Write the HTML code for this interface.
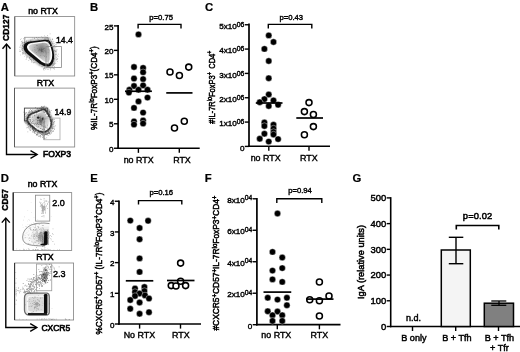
<!DOCTYPE html>
<html><head><meta charset="utf-8"><title>Figure</title>
<style>
html,body{margin:0;padding:0;background:#fff;}
body{width:520px;height:352px;overflow:hidden;font-family:"Liberation Sans",sans-serif;}
svg{display:block;filter:blur(0.35px);font-family:"Liberation Sans",sans-serif;}
svg text{fill:#000;stroke:#000;stroke-width:0.4px;}
</style></head><body>
<svg width="520" height="352" viewBox="0 0 520 352">
<defs><filter id="b1" x="-20%" y="-20%" width="140%" height="140%"><feGaussianBlur stdDeviation="0.45"/></filter>
<filter id="b2" x="-30%" y="-30%" width="160%" height="160%"><feGaussianBlur stdDeviation="1.1"/></filter>
<radialGradient id="gA1" gradientUnits="userSpaceOnUse" cx="41.5" cy="49" r="11"><stop offset="0" stop-color="#747474"/><stop offset="0.5" stop-color="#a8a8a8"/><stop offset="1" stop-color="#cfcfcf"/></radialGradient>
<radialGradient id="gA2" gradientUnits="userSpaceOnUse" cx="40.5" cy="119" r="10"><stop offset="0" stop-color="#8a8a8a"/><stop offset="0.5" stop-color="#c2c2c2"/><stop offset="1" stop-color="#e2e2e2"/></radialGradient>
</defs>
<rect width="520" height="352" fill="#fff"/>
<text x="0.8" y="10.7" font-size="11.3" text-anchor="start" font-weight="bold" style="stroke-width:0.2px">A</text>
<text x="90" y="10.7" font-size="11.3" text-anchor="start" font-weight="bold" style="stroke-width:0.2px">B</text>
<text x="205" y="10.7" font-size="11.3" text-anchor="start" font-weight="bold" style="stroke-width:0.2px">C</text>
<text x="0.8" y="182.1" font-size="11.3" text-anchor="start" font-weight="bold" style="stroke-width:0.2px">D</text>
<text x="90.3" y="182.1" font-size="11.3" text-anchor="start" font-weight="bold" style="stroke-width:0.2px">E</text>
<text x="204.8" y="182.1" font-size="11.3" text-anchor="start" font-weight="bold" style="stroke-width:0.2px">F</text>
<text x="352.6" y="182.1" font-size="11.3" text-anchor="start" font-weight="bold" style="stroke-width:0.2px">G</text>
<rect x="14.75" y="16.6" width="59.95" height="59.40" fill="#fff" stroke="#808080" stroke-width="0.8"/>
<path d="M14.75 16.6 V76" fill="none" stroke="#555" stroke-width="0.9"/>
<text x="43" y="13.5" font-size="8.8" text-anchor="middle" font-weight="normal" style="stroke-width:0.5px">no RTX</text>
<rect x="24.75" y="37.25" width="23.35" height="9.75" fill="none" stroke="#888" stroke-width="0.7" opacity="1"/>
<g filter="url(#b2)"><path d="M23.6 46.5 Q24.5 42 30 41.4 L45.3 39.7 Q49.5 39.5 51 43 Q54.8 52 54 58.5 Q52.8 66.4 47.8 66.4 Q43.5 66.5 39.5 63.8 L28 54.5 Q23.2 50.5 23.6 46.5 Z" fill="none" stroke="#000" stroke-width="3" opacity="0.35"/></g>
<g filter="url(#b1)">
<path d="M23.6 46.5 Q24.5 42 30 41.4 L45.3 39.7 Q49.5 39.5 51 43 Q54.8 52 54 58.5 Q52.8 66.4 47.8 66.4 Q43.5 66.5 39.5 63.8 L28 54.5 Q23.2 50.5 23.6 46.5 Z" fill="#0a0a0a"/>
<path d="M27 46 Q28 43.5 31 43 L45 41.2 Q48 41.2 49.5 44 Q53 52 52 58 Q51 63.3 48 63.8 Q45 64 42 62 L30 52 Q26.5 49 27 46 Z" fill="#fbfbfb"/>
<path d="M29 46.5 Q29.6 44.6 32 44.3 L44.5 42.8 Q47 42.8 48.2 45 Q51.2 52 50.3 57.5 Q49.5 61.8 47.5 62 Q45.3 62 43 60.5 L31.2 51 Q28.6 48.7 29 46.5 Z" fill="url(#gA1)"/>
</g>
<path d="M44.0 68.3h0.6v0.6h-0.6zM19.5 49.6h0.6v0.6h-0.6zM52.5 42.8h0.6v0.6h-0.6zM38.3 39.7h0.6v0.6h-0.6zM54.3 49.9h0.6v0.6h-0.6zM43.7 69.8h0.6v0.6h-0.6zM48.6 39.9h0.6v0.6h-0.6zM53.4 61.0h0.6v0.6h-0.6zM53.5 46.6h0.6v0.6h-0.6zM21.0 42.7h0.6v0.6h-0.6zM49.8 66.7h0.6v0.6h-0.6zM55.0 51.0h0.6v0.6h-0.6zM56.0 59.2h0.6v0.6h-0.6zM55.5 63.3h0.6v0.6h-0.6zM52.5 42.7h0.6v0.6h-0.6zM26.0 41.3h0.6v0.6h-0.6zM48.0 69.0h0.6v0.6h-0.6zM30.7 59.3h0.6v0.6h-0.6zM24.6 37.4h0.6v0.6h-0.6zM26.0 58.8h0.6v0.6h-0.6zM22.4 42.4h0.6v0.6h-0.6zM29.7 57.6h0.6v0.6h-0.6zM56.0 46.1h0.6v0.6h-0.6zM45.6 38.7h0.6v0.6h-0.6zM31.6 62.1h0.6v0.6h-0.6zM45.6 68.6h0.6v0.6h-0.6zM28.0 41.0h0.6v0.6h-0.6zM24.8 54.5h0.6v0.6h-0.6zM47.3 41.4h0.6v0.6h-0.6zM48.3 40.5h0.6v0.6h-0.6zM26.0 40.6h0.6v0.6h-0.6zM21.9 50.5h0.6v0.6h-0.6zM44.3 67.9h0.6v0.6h-0.6zM46.1 37.9h0.6v0.6h-0.6zM52.1 39.4h0.6v0.6h-0.6zM42.5 37.6h0.6v0.6h-0.6zM50.5 65.2h0.6v0.6h-0.6zM44.7 38.2h0.6v0.6h-0.6zM29.7 59.2h0.6v0.6h-0.6zM53.3 58.7h0.6v0.6h-0.6zM54.9 54.2h0.6v0.6h-0.6zM22.2 45.9h0.6v0.6h-0.6zM39.2 40.3h0.6v0.6h-0.6zM48.9 41.6h0.6v0.6h-0.6zM23.2 53.6h0.6v0.6h-0.6zM56.6 49.8h0.6v0.6h-0.6zM50.7 44.7h0.6v0.6h-0.6zM22.4 41.7h0.6v0.6h-0.6zM53.4 65.4h0.6v0.6h-0.6zM53.0 68.3h0.6v0.6h-0.6zM47.6 64.5h0.6v0.6h-0.6zM21.1 41.0h0.6v0.6h-0.6zM43.7 39.6h0.6v0.6h-0.6zM55.8 51.1h0.6v0.6h-0.6zM54.0 66.1h0.6v0.6h-0.6zM29.9 55.2h0.6v0.6h-0.6zM55.3 42.4h0.6v0.6h-0.6zM26.4 56.0h0.6v0.6h-0.6zM24.1 56.2h0.6v0.6h-0.6zM47.0 35.3h0.6v0.6h-0.6zM37.3 38.2h0.6v0.6h-0.6zM55.8 54.1h0.6v0.6h-0.6zM54.1 59.4h0.6v0.6h-0.6zM25.3 52.8h0.6v0.6h-0.6zM43.1 65.1h0.6v0.6h-0.6zM24.4 48.8h0.6v0.6h-0.6zM19.2 51.0h0.6v0.6h-0.6zM50.4 39.4h0.6v0.6h-0.6zM49.0 37.6h0.6v0.6h-0.6zM44.5 67.3h0.6v0.6h-0.6zM44.5 38.6h0.6v0.6h-0.6zM21.2 41.5h0.6v0.6h-0.6zM32.1 37.7h0.6v0.6h-0.6zM22.4 53.1h0.6v0.6h-0.6zM26.5 57.6h0.6v0.6h-0.6zM53.3 65.3h0.6v0.6h-0.6zM30.4 59.4h0.6v0.6h-0.6zM37.6 39.2h0.6v0.6h-0.6zM53.7 63.8h0.6v0.6h-0.6zM54.3 64.0h0.6v0.6h-0.6zM58.3 53.8h0.6v0.6h-0.6zM53.5 41.0h0.6v0.6h-0.6zM28.5 60.1h0.6v0.6h-0.6zM49.4 67.0h0.6v0.6h-0.6zM22.0 48.0h0.6v0.6h-0.6zM21.7 48.8h0.6v0.6h-0.6zM57.0 55.5h0.6v0.6h-0.6zM25.1 43.4h0.6v0.6h-0.6zM30.2 56.5h0.6v0.6h-0.6zM44.0 65.5h0.6v0.6h-0.6zM53.9 68.1h0.6v0.6h-0.6zM31.4 60.3h0.6v0.6h-0.6zM44.7 40.2h0.6v0.6h-0.6zM30.0 39.7h0.6v0.6h-0.6zM24.7 48.6h0.6v0.6h-0.6zM23.1 44.2h0.6v0.6h-0.6zM49.6 42.8h0.6v0.6h-0.6zM54.4 63.3h0.6v0.6h-0.6zM49.8 33.6h0.6v0.6h-0.6zM21.8 44.6h0.6v0.6h-0.6zM54.6 50.6h0.6v0.6h-0.6zM31.2 61.0h0.6v0.6h-0.6zM23.0 51.7h0.6v0.6h-0.6zM54.8 50.4h0.6v0.6h-0.6zM33.6 58.7h0.6v0.6h-0.6zM22.1 45.1h0.6v0.6h-0.6zM45.5 36.7h0.6v0.6h-0.6zM22.1 50.0h0.6v0.6h-0.6zM56.4 56.9h0.6v0.6h-0.6zM27.2 44.0h0.6v0.6h-0.6zM26.3 51.2h0.6v0.6h-0.6zM55.8 46.6h0.6v0.6h-0.6zM27.3 55.9h0.6v0.6h-0.6zM22.6 45.4h0.6v0.6h-0.6zM22.0 46.7h0.6v0.6h-0.6zM33.9 38.3h0.6v0.6h-0.6zM32.9 59.1h0.6v0.6h-0.6zM52.8 63.3h0.6v0.6h-0.6zM22.0 45.6h0.6v0.6h-0.6zM52.4 39.3h0.6v0.6h-0.6zM20.4 39.3h0.6v0.6h-0.6zM55.7 43.8h0.6v0.6h-0.6zM31.7 39.4h0.6v0.6h-0.6zM22.4 40.7h0.6v0.6h-0.6zM26.7 45.6h0.6v0.6h-0.6zM20.0 51.1h0.6v0.6h-0.6zM29.5 57.9h0.6v0.6h-0.6zM52.5 43.4h0.6v0.6h-0.6zM44.2 66.5h0.6v0.6h-0.6zM22.8 42.1h0.6v0.6h-0.6zM46.7 37.1h0.6v0.6h-0.6zM47.4 38.6h0.6v0.6h-0.6zM38.6 37.3h0.6v0.6h-0.6zM19.7 51.2h0.6v0.6h-0.6zM27.0 50.4h0.6v0.6h-0.6zM24.5 46.0h0.6v0.6h-0.6zM20.0 54.7h0.6v0.6h-0.6zM55.7 44.6h0.6v0.6h-0.6zM54.4 68.9h0.6v0.6h-0.6zM24.0 51.7h0.6v0.6h-0.6zM23.3 52.8h0.6v0.6h-0.6zM23.1 38.7h0.6v0.6h-0.6zM48.3 40.3h0.6v0.6h-0.6zM52.0 63.6h0.6v0.6h-0.6zM44.8 38.4h0.6v0.6h-0.6zM56.6 58.7h0.6v0.6h-0.6zM30.6 39.9h0.6v0.6h-0.6zM25.1 45.9h0.6v0.6h-0.6zM47.5 41.1h0.6v0.6h-0.6zM55.7 50.2h0.6v0.6h-0.6zM20.9 38.4h0.6v0.6h-0.6zM22.3 48.7h0.6v0.6h-0.6zM37.7 61.4h0.6v0.6h-0.6zM56.0 59.6h0.6v0.6h-0.6zM48.5 41.1h0.6v0.6h-0.6zM54.5 61.9h0.6v0.6h-0.6zM41.9 66.4h0.6v0.6h-0.6zM20.8 47.5h0.6v0.6h-0.6zM43.1 68.3h0.6v0.6h-0.6zM54.8 47.2h0.6v0.6h-0.6zM50.0 69.6h0.6v0.6h-0.6zM21.9 42.7h0.6v0.6h-0.6zM22.4 53.9h0.6v0.6h-0.6zM29.0 56.9h0.6v0.6h-0.6zM23.3 46.0h0.6v0.6h-0.6zM30.0 41.3h0.6v0.6h-0.6zM25.7 59.0h0.6v0.6h-0.6zM19.5 47.5h0.6v0.6h-0.6zM22.5 52.3h0.6v0.6h-0.6zM23.5 47.5h0.6v0.6h-0.6zM31.7 43.5h0.6v0.6h-0.6zM44.3 35.6h0.6v0.6h-0.6zM29.4 58.3h0.6v0.6h-0.6zM49.9 37.7h0.6v0.6h-0.6zM50.6 65.0h0.6v0.6h-0.6zM34.7 62.2h0.6v0.6h-0.6zM22.6 48.6h0.6v0.6h-0.6zM21.4 48.8h0.6v0.6h-0.6zM48.4 66.3h0.6v0.6h-0.6zM56.5 49.5h0.6v0.6h-0.6zM57.1 59.2h0.6v0.6h-0.6zM43.1 69.1h0.6v0.6h-0.6zM51.8 67.6h0.6v0.6h-0.6zM38.8 64.9h0.6v0.6h-0.6zM51.8 63.8h0.6v0.6h-0.6zM54.5 44.9h0.6v0.6h-0.6zM54.5 44.9h0.6v0.6h-0.6zM27.4 53.5h0.6v0.6h-0.6zM25.0 41.8h0.6v0.6h-0.6zM51.5 41.2h0.6v0.6h-0.6zM19.7 46.6h0.6v0.6h-0.6zM50.3 67.7h0.6v0.6h-0.6zM49.2 65.4h0.6v0.6h-0.6zM28.9 57.3h0.6v0.6h-0.6zM43.3 68.3h0.6v0.6h-0.6zM27.5 43.0h0.6v0.6h-0.6zM36.4 37.1h0.6v0.6h-0.6zM52.2 65.1h0.6v0.6h-0.6zM26.7 57.1h0.6v0.6h-0.6zM49.4 67.1h0.6v0.6h-0.6zM39.2 64.5h0.6v0.6h-0.6zM47.2 69.2h0.6v0.6h-0.6zM57.5 58.3h0.6v0.6h-0.6zM52.2 66.6h0.6v0.6h-0.6zM51.5 60.2h0.6v0.6h-0.6zM56.1 51.0h0.6v0.6h-0.6zM24.7 42.0h0.6v0.6h-0.6zM22.3 53.2h0.6v0.6h-0.6zM34.0 62.2h0.6v0.6h-0.6zM23.4 38.0h0.6v0.6h-0.6zM49.5 41.8h0.6v0.6h-0.6zM44.0 66.6h0.6v0.6h-0.6zM33.5 61.9h0.6v0.6h-0.6zM21.9 43.3h0.6v0.6h-0.6zM33.0 59.9h0.6v0.6h-0.6zM23.9 42.1h0.6v0.6h-0.6zM30.1 59.3h0.6v0.6h-0.6zM56.8 49.5h0.6v0.6h-0.6zM40.8 39.8h0.6v0.6h-0.6zM54.4 58.3h0.6v0.6h-0.6zM53.7 45.9h0.6v0.6h-0.6zM49.5 49.7h0.6v0.6h-0.6zM22.0 48.7h0.6v0.6h-0.6zM24.7 53.3h0.6v0.6h-0.6zM56.0 52.7h0.6v0.6h-0.6zM57.4 58.6h0.6v0.6h-0.6zM53.3 56.7h0.6v0.6h-0.6zM26.2 52.2h0.6v0.6h-0.6zM20.2 44.8h0.6v0.6h-0.6zM52.8 42.9h0.6v0.6h-0.6zM55.4 51.5h0.6v0.6h-0.6zM22.2 42.2h0.6v0.6h-0.6zM57.8 56.3h0.6v0.6h-0.6zM31.0 59.6h0.6v0.6h-0.6zM20.3 50.7h0.6v0.6h-0.6zM33.0 62.5h0.6v0.6h-0.6zM57.2 61.0h0.6v0.6h-0.6zM51.7 67.8h0.6v0.6h-0.6zM45.4 68.8h0.6v0.6h-0.6zM23.4 44.7h0.6v0.6h-0.6zM34.4 37.8h0.6v0.6h-0.6zM47.9 38.8h0.6v0.6h-0.6zM41.5 66.0h0.6v0.6h-0.6zM22.2 52.0h0.6v0.6h-0.6zM54.1 43.0h0.6v0.6h-0.6zM54.2 45.5h0.6v0.6h-0.6zM25.8 55.2h0.6v0.6h-0.6zM41.4 35.9h0.6v0.6h-0.6zM52.0 38.6h0.6v0.6h-0.6zM56.0 53.9h0.6v0.6h-0.6zM31.8 61.0h0.6v0.6h-0.6zM47.1 35.2h0.6v0.6h-0.6zM25.2 38.6h0.6v0.6h-0.6zM49.2 65.8h0.6v0.6h-0.6zM52.9 64.1h0.6v0.6h-0.6zM32.9 62.7h0.6v0.6h-0.6zM24.0 46.8h0.6v0.6h-0.6zM25.0 51.7h0.6v0.6h-0.6zM51.1 41.6h0.6v0.6h-0.6zM50.2 68.5h0.6v0.6h-0.6z" fill="#000" opacity="0.4"/>
<path d="M34.4 49.6h0.6v0.6h-0.6zM42.5 50.9h0.6v0.6h-0.6zM40.9 49.0h0.6v0.6h-0.6zM46.3 51.9h0.6v0.6h-0.6zM32.5 49.8h0.6v0.6h-0.6zM46.4 56.2h0.6v0.6h-0.6zM45.9 43.9h0.6v0.6h-0.6zM41.1 49.8h0.6v0.6h-0.6zM42.9 55.2h0.6v0.6h-0.6zM41.6 49.8h0.6v0.6h-0.6zM44.7 47.8h0.6v0.6h-0.6zM47.6 46.9h0.6v0.6h-0.6zM45.4 51.9h0.6v0.6h-0.6zM44.5 55.5h0.6v0.6h-0.6zM42.1 49.2h0.6v0.6h-0.6zM46.4 56.8h0.6v0.6h-0.6zM38.1 50.0h0.6v0.6h-0.6zM40.9 51.6h0.6v0.6h-0.6zM40.4 50.0h0.6v0.6h-0.6zM41.5 51.1h0.6v0.6h-0.6zM44.5 55.7h0.6v0.6h-0.6zM43.2 48.3h0.6v0.6h-0.6zM41.3 50.5h0.6v0.6h-0.6zM38.7 49.6h0.6v0.6h-0.6zM36.9 45.3h0.6v0.6h-0.6zM33.9 47.4h0.6v0.6h-0.6zM39.5 49.2h0.6v0.6h-0.6zM42.5 49.9h0.6v0.6h-0.6zM36.4 45.1h0.6v0.6h-0.6zM40.5 55.3h0.6v0.6h-0.6zM45.0 49.8h0.6v0.6h-0.6zM41.2 47.9h0.6v0.6h-0.6zM37.7 51.2h0.6v0.6h-0.6zM47.8 52.1h0.6v0.6h-0.6zM41.1 49.9h0.6v0.6h-0.6zM47.8 49.3h0.6v0.6h-0.6zM39.2 48.9h0.6v0.6h-0.6zM44.6 50.0h0.6v0.6h-0.6zM44.8 50.8h0.6v0.6h-0.6zM36.1 52.2h0.6v0.6h-0.6zM39.0 49.8h0.6v0.6h-0.6zM41.2 51.5h0.6v0.6h-0.6zM40.8 49.7h0.6v0.6h-0.6zM41.0 50.0h0.6v0.6h-0.6zM42.7 51.3h0.6v0.6h-0.6zM38.7 48.7h0.6v0.6h-0.6zM39.4 49.0h0.6v0.6h-0.6zM34.6 51.0h0.6v0.6h-0.6zM43.2 52.5h0.6v0.6h-0.6zM41.8 51.1h0.6v0.6h-0.6zM46.2 53.6h0.6v0.6h-0.6zM42.5 42.7h0.6v0.6h-0.6zM40.9 50.0h0.6v0.6h-0.6zM40.6 49.4h0.6v0.6h-0.6zM37.2 48.4h0.6v0.6h-0.6zM35.8 51.9h0.6v0.6h-0.6zM41.3 49.9h0.6v0.6h-0.6zM44.0 47.9h0.6v0.6h-0.6zM45.6 51.3h0.6v0.6h-0.6zM41.1 51.0h0.6v0.6h-0.6zM41.1 50.0h0.6v0.6h-0.6zM40.3 49.8h0.6v0.6h-0.6zM42.9 49.3h0.6v0.6h-0.6zM39.1 48.4h0.6v0.6h-0.6zM35.5 49.8h0.6v0.6h-0.6zM44.1 56.1h0.6v0.6h-0.6zM40.8 50.4h0.6v0.6h-0.6zM42.1 49.1h0.6v0.6h-0.6zM41.0 49.9h0.6v0.6h-0.6zM41.3 49.6h0.6v0.6h-0.6z" fill="#000" opacity="0.3"/>
<path d="M48.1 41 V65" stroke="#999" stroke-width="0.7" opacity="0.8"/>
<rect x="46" y="46.6" width="15.50" height="20.90" fill="none" stroke="#888" stroke-width="0.8" opacity="1"/>
<text x="56" y="43" font-size="8.7" text-anchor="start" font-weight="normal" style="stroke-width:0.45px">14.4</text>
<rect x="14.5" y="88.1" width="60.20" height="58.90" fill="#fff" stroke="#808080" stroke-width="0.8"/>
<path d="M14.5 88.1 V147" fill="none" stroke="#555" stroke-width="0.9"/>
<text x="45.5" y="85.7" font-size="8.8" text-anchor="middle" font-weight="normal" style="stroke-width:0.5px">RTX</text>
<rect x="24.4" y="108.1" width="23.35" height="12.90" fill="none" stroke="#444" stroke-width="0.9" opacity="1"/>
<g filter="url(#b2)"><path d="M27.5 119 Q28 115.5 31 114 L42 109.8 Q45 109 46.5 111.5 Q51.5 119 51.3 124 Q50.5 130 44 132 Q40 132.5 36 129.5 L30 124.5 Q27 122 27.5 119 Z" fill="none" stroke="#000" stroke-width="4" opacity="0.42"/></g>
<g filter="url(#b1)">
<path d="M27.5 119 Q28 115.5 31 114 L42 109.8 Q45 109 46.5 111.5 Q51.5 119 51.3 124 Q50.5 130 44 132 Q40 132.5 36 129.5 L30 124.5 Q27 122 27.5 119 Z" fill="#f4f4f4" stroke="#444" stroke-width="1.5"/>
<path d="M30 119 Q30.5 116.6 33 115.6 L42 112 Q44 111.6 45 113.5 Q49 119.5 48.8 123.5 Q48 128.3 43.5 129.6 Q40.5 130 37.5 127.5 L32 123 Q29.7 121 30 119 Z" fill="url(#gA2)"/>
<ellipse cx="38.2" cy="117.6" rx="1.3" ry="1.2" fill="#222"/><ellipse cx="43" cy="118.8" rx="1.2" ry="1.3" fill="#333"/>
</g>
<path d="M31.9 127.3h0.7v0.7h-0.7zM32.1 111.1h0.7v0.7h-0.7zM50.5 130.7h0.7v0.7h-0.7zM40.0 128.0h0.7v0.7h-0.7zM52.1 127.5h0.7v0.7h-0.7zM29.8 116.0h0.7v0.7h-0.7zM52.2 119.8h0.7v0.7h-0.7zM39.3 135.9h0.7v0.7h-0.7zM29.7 124.2h0.7v0.7h-0.7zM27.2 114.1h0.7v0.7h-0.7zM48.7 130.6h0.7v0.7h-0.7zM44.6 109.1h0.7v0.7h-0.7zM45.0 110.0h0.7v0.7h-0.7zM26.5 117.8h0.7v0.7h-0.7zM41.5 110.7h0.7v0.7h-0.7zM50.5 130.9h0.7v0.7h-0.7zM41.4 106.2h0.7v0.7h-0.7zM41.3 133.9h0.7v0.7h-0.7zM31.4 111.7h0.7v0.7h-0.7zM39.5 108.2h0.7v0.7h-0.7zM31.5 109.9h0.7v0.7h-0.7zM51.4 125.0h0.7v0.7h-0.7zM53.1 131.3h0.7v0.7h-0.7zM42.2 131.7h0.7v0.7h-0.7zM52.8 127.9h0.7v0.7h-0.7zM39.0 132.3h0.7v0.7h-0.7zM28.6 119.3h0.7v0.7h-0.7zM36.6 112.3h0.7v0.7h-0.7zM49.3 114.3h0.7v0.7h-0.7zM42.9 132.4h0.7v0.7h-0.7zM44.1 109.4h0.7v0.7h-0.7zM52.8 130.0h0.7v0.7h-0.7zM52.2 118.6h0.7v0.7h-0.7zM38.2 110.7h0.7v0.7h-0.7zM36.7 111.6h0.7v0.7h-0.7zM33.9 127.6h0.7v0.7h-0.7zM26.8 118.6h0.7v0.7h-0.7zM45.9 109.0h0.7v0.7h-0.7zM29.9 126.2h0.7v0.7h-0.7zM26.9 117.8h0.7v0.7h-0.7zM28.6 121.3h0.7v0.7h-0.7zM28.5 123.4h0.7v0.7h-0.7zM47.3 131.3h0.7v0.7h-0.7zM49.3 111.3h0.7v0.7h-0.7zM49.5 110.6h0.7v0.7h-0.7zM48.2 132.4h0.7v0.7h-0.7zM30.7 111.3h0.7v0.7h-0.7zM48.7 109.1h0.7v0.7h-0.7zM42.6 134.8h0.7v0.7h-0.7zM51.6 124.2h0.7v0.7h-0.7zM33.1 130.2h0.7v0.7h-0.7zM52.9 128.1h0.7v0.7h-0.7zM42.1 137.0h0.7v0.7h-0.7zM33.1 127.4h0.7v0.7h-0.7zM49.8 117.3h0.7v0.7h-0.7zM46.8 128.0h0.7v0.7h-0.7zM50.9 117.4h0.7v0.7h-0.7zM50.0 129.7h0.7v0.7h-0.7zM35.4 128.1h0.7v0.7h-0.7zM42.2 134.3h0.7v0.7h-0.7zM28.5 112.5h0.7v0.7h-0.7zM52.2 118.6h0.7v0.7h-0.7zM48.7 119.0h0.7v0.7h-0.7zM42.1 134.6h0.7v0.7h-0.7zM53.3 123.9h0.7v0.7h-0.7zM37.3 108.0h0.7v0.7h-0.7zM51.6 124.6h0.7v0.7h-0.7zM31.9 127.4h0.7v0.7h-0.7zM51.6 124.7h0.7v0.7h-0.7zM54.4 121.5h0.7v0.7h-0.7zM44.2 105.7h0.7v0.7h-0.7zM48.9 116.2h0.7v0.7h-0.7zM42.6 107.2h0.7v0.7h-0.7zM37.2 133.6h0.7v0.7h-0.7zM43.8 111.8h0.7v0.7h-0.7zM48.2 115.6h0.7v0.7h-0.7zM32.7 130.8h0.7v0.7h-0.7zM50.7 123.9h0.7v0.7h-0.7zM28.5 122.7h0.7v0.7h-0.7zM48.2 133.1h0.7v0.7h-0.7zM43.2 107.5h0.7v0.7h-0.7zM44.3 112.3h0.7v0.7h-0.7zM28.4 118.4h0.7v0.7h-0.7zM37.8 109.5h0.7v0.7h-0.7zM33.0 128.7h0.7v0.7h-0.7zM44.2 106.1h0.7v0.7h-0.7zM40.9 108.0h0.7v0.7h-0.7zM51.2 121.7h0.7v0.7h-0.7zM29.3 122.9h0.7v0.7h-0.7zM41.2 134.1h0.7v0.7h-0.7zM30.0 114.5h0.7v0.7h-0.7zM46.8 116.1h0.7v0.7h-0.7zM25.7 120.5h0.7v0.7h-0.7zM29.6 120.9h0.7v0.7h-0.7zM32.5 128.0h0.7v0.7h-0.7zM47.3 133.0h0.7v0.7h-0.7zM45.3 134.2h0.7v0.7h-0.7zM42.7 106.1h0.7v0.7h-0.7zM48.4 129.9h0.7v0.7h-0.7zM48.5 116.0h0.7v0.7h-0.7zM27.7 117.3h0.7v0.7h-0.7zM42.6 131.6h0.7v0.7h-0.7zM40.4 130.8h0.7v0.7h-0.7zM48.2 130.6h0.7v0.7h-0.7zM42.8 110.2h0.7v0.7h-0.7zM38.5 131.5h0.7v0.7h-0.7zM27.5 116.9h0.7v0.7h-0.7zM30.6 112.9h0.7v0.7h-0.7zM45.3 108.4h0.7v0.7h-0.7zM31.0 110.3h0.7v0.7h-0.7zM43.7 109.3h0.7v0.7h-0.7zM40.8 107.5h0.7v0.7h-0.7zM45.6 110.7h0.7v0.7h-0.7zM52.4 123.7h0.7v0.7h-0.7zM24.4 115.5h0.7v0.7h-0.7zM38.5 130.0h0.7v0.7h-0.7zM23.5 111.8h0.7v0.7h-0.7zM44.7 110.6h0.7v0.7h-0.7zM31.8 127.1h0.7v0.7h-0.7zM24.0 114.3h0.7v0.7h-0.7zM33.5 113.4h0.7v0.7h-0.7zM50.8 131.4h0.7v0.7h-0.7zM45.6 114.0h0.7v0.7h-0.7zM48.8 112.3h0.7v0.7h-0.7zM31.3 123.8h0.7v0.7h-0.7zM28.6 114.7h0.7v0.7h-0.7zM33.5 113.5h0.7v0.7h-0.7zM27.3 126.9h0.7v0.7h-0.7zM32.3 128.4h0.7v0.7h-0.7zM32.5 109.4h0.7v0.7h-0.7zM38.1 129.4h0.7v0.7h-0.7zM49.2 128.5h0.7v0.7h-0.7zM26.2 112.6h0.7v0.7h-0.7zM43.0 132.9h0.7v0.7h-0.7zM45.3 112.4h0.7v0.7h-0.7zM48.7 113.5h0.7v0.7h-0.7zM51.6 120.2h0.7v0.7h-0.7zM54.1 127.8h0.7v0.7h-0.7zM29.6 120.2h0.7v0.7h-0.7zM46.3 106.8h0.7v0.7h-0.7zM32.7 126.7h0.7v0.7h-0.7zM40.2 128.4h0.7v0.7h-0.7zM51.1 115.7h0.7v0.7h-0.7zM52.0 121.1h0.7v0.7h-0.7zM40.6 133.1h0.7v0.7h-0.7zM28.9 110.1h0.7v0.7h-0.7zM45.2 131.6h0.7v0.7h-0.7zM48.9 111.5h0.7v0.7h-0.7zM45.8 131.9h0.7v0.7h-0.7zM25.2 113.6h0.7v0.7h-0.7zM45.2 131.6h0.7v0.7h-0.7zM27.0 116.9h0.7v0.7h-0.7zM28.6 116.1h0.7v0.7h-0.7zM49.5 112.8h0.7v0.7h-0.7zM30.0 117.1h0.7v0.7h-0.7zM47.3 134.5h0.7v0.7h-0.7zM43.4 133.8h0.7v0.7h-0.7zM32.0 121.0h0.7v0.7h-0.7zM33.5 128.6h0.7v0.7h-0.7zM42.6 128.9h0.7v0.7h-0.7zM41.4 131.3h0.7v0.7h-0.7zM52.6 122.4h0.7v0.7h-0.7zM52.3 131.3h0.7v0.7h-0.7zM31.6 114.9h0.7v0.7h-0.7zM34.5 130.8h0.7v0.7h-0.7zM50.3 121.1h0.7v0.7h-0.7zM34.4 112.2h0.7v0.7h-0.7zM46.8 133.4h0.7v0.7h-0.7zM49.1 110.4h0.7v0.7h-0.7zM53.5 122.8h0.7v0.7h-0.7zM44.6 106.0h0.7v0.7h-0.7zM50.9 110.2h0.7v0.7h-0.7zM33.1 128.3h0.7v0.7h-0.7zM47.5 132.7h0.7v0.7h-0.7zM49.0 132.0h0.7v0.7h-0.7zM31.6 126.3h0.7v0.7h-0.7zM51.5 126.2h0.7v0.7h-0.7zM52.7 126.8h0.7v0.7h-0.7zM45.3 132.3h0.7v0.7h-0.7zM29.0 111.2h0.7v0.7h-0.7zM29.8 122.7h0.7v0.7h-0.7zM46.4 133.4h0.7v0.7h-0.7zM47.5 116.7h0.7v0.7h-0.7zM29.6 113.9h0.7v0.7h-0.7zM25.5 116.2h0.7v0.7h-0.7zM34.1 127.1h0.7v0.7h-0.7zM46.6 110.2h0.7v0.7h-0.7zM51.8 128.0h0.7v0.7h-0.7zM51.4 119.8h0.7v0.7h-0.7zM41.1 106.0h0.7v0.7h-0.7zM41.9 107.4h0.7v0.7h-0.7zM50.8 118.5h0.7v0.7h-0.7zM36.3 128.6h0.7v0.7h-0.7zM49.3 128.8h0.7v0.7h-0.7zM29.8 129.7h0.7v0.7h-0.7zM47.2 112.7h0.7v0.7h-0.7zM49.0 128.8h0.7v0.7h-0.7zM31.7 114.9h0.7v0.7h-0.7zM30.0 109.2h0.7v0.7h-0.7zM45.4 131.2h0.7v0.7h-0.7zM29.5 119.1h0.7v0.7h-0.7zM27.5 123.4h0.7v0.7h-0.7zM29.2 118.9h0.7v0.7h-0.7zM43.5 112.2h0.7v0.7h-0.7zM29.2 117.6h0.7v0.7h-0.7zM50.5 120.8h0.7v0.7h-0.7zM54.1 121.2h0.7v0.7h-0.7zM44.7 110.1h0.7v0.7h-0.7zM54.9 125.6h0.7v0.7h-0.7zM53.3 122.5h0.7v0.7h-0.7zM42.5 129.0h0.7v0.7h-0.7zM33.7 129.0h0.7v0.7h-0.7zM30.4 115.5h0.7v0.7h-0.7zM48.3 129.6h0.7v0.7h-0.7zM43.8 132.5h0.7v0.7h-0.7zM49.0 111.3h0.7v0.7h-0.7zM36.9 130.6h0.7v0.7h-0.7zM41.4 109.6h0.7v0.7h-0.7zM25.5 118.5h0.7v0.7h-0.7zM30.2 119.2h0.7v0.7h-0.7zM25.7 117.7h0.7v0.7h-0.7zM51.1 127.2h0.7v0.7h-0.7zM30.6 111.6h0.7v0.7h-0.7zM26.3 119.7h0.7v0.7h-0.7zM33.8 111.7h0.7v0.7h-0.7zM48.8 120.5h0.7v0.7h-0.7zM33.2 128.9h0.7v0.7h-0.7zM36.4 133.8h0.7v0.7h-0.7zM48.6 128.1h0.7v0.7h-0.7zM39.7 130.7h0.7v0.7h-0.7zM49.4 127.8h0.7v0.7h-0.7zM50.3 117.4h0.7v0.7h-0.7zM39.7 136.3h0.7v0.7h-0.7zM48.8 116.5h0.7v0.7h-0.7zM49.5 113.9h0.7v0.7h-0.7zM36.0 112.4h0.7v0.7h-0.7zM32.6 132.2h0.7v0.7h-0.7zM50.6 118.1h0.7v0.7h-0.7zM37.3 134.1h0.7v0.7h-0.7zM47.5 129.1h0.7v0.7h-0.7zM29.5 124.5h0.7v0.7h-0.7zM46.5 111.1h0.7v0.7h-0.7zM38.3 110.2h0.7v0.7h-0.7zM33.9 132.1h0.7v0.7h-0.7zM32.4 111.9h0.7v0.7h-0.7zM45.9 133.2h0.7v0.7h-0.7zM39.1 130.7h0.7v0.7h-0.7zM29.8 127.3h0.7v0.7h-0.7zM44.2 110.9h0.7v0.7h-0.7zM49.3 128.9h0.7v0.7h-0.7zM44.8 133.3h0.7v0.7h-0.7zM26.4 122.7h0.7v0.7h-0.7zM50.5 128.1h0.7v0.7h-0.7zM34.6 130.9h0.7v0.7h-0.7zM40.4 132.1h0.7v0.7h-0.7zM25.9 117.6h0.7v0.7h-0.7zM32.1 111.1h0.7v0.7h-0.7zM49.4 111.1h0.7v0.7h-0.7zM29.9 119.9h0.7v0.7h-0.7zM29.3 116.8h0.7v0.7h-0.7zM54.2 129.1h0.7v0.7h-0.7zM47.2 132.8h0.7v0.7h-0.7zM33.0 130.2h0.7v0.7h-0.7zM50.7 118.1h0.7v0.7h-0.7zM36.5 111.3h0.7v0.7h-0.7zM28.4 114.9h0.7v0.7h-0.7zM28.1 114.0h0.7v0.7h-0.7zM28.9 117.0h0.7v0.7h-0.7zM52.0 128.5h0.7v0.7h-0.7zM45.1 111.0h0.7v0.7h-0.7zM45.2 110.3h0.7v0.7h-0.7zM28.1 111.8h0.7v0.7h-0.7zM35.0 130.0h0.7v0.7h-0.7zM49.0 132.8h0.7v0.7h-0.7zM30.3 119.7h0.7v0.7h-0.7zM32.2 112.0h0.7v0.7h-0.7zM24.6 119.5h0.7v0.7h-0.7zM26.6 115.4h0.7v0.7h-0.7zM25.9 117.5h0.7v0.7h-0.7zM29.4 112.2h0.7v0.7h-0.7zM45.7 130.8h0.7v0.7h-0.7zM50.0 116.6h0.7v0.7h-0.7zM40.7 130.6h0.7v0.7h-0.7zM49.2 114.4h0.7v0.7h-0.7zM28.3 115.4h0.7v0.7h-0.7zM34.8 110.3h0.7v0.7h-0.7zM38.9 110.5h0.7v0.7h-0.7zM48.1 116.2h0.7v0.7h-0.7zM40.8 131.9h0.7v0.7h-0.7zM45.0 110.2h0.7v0.7h-0.7zM42.6 111.1h0.7v0.7h-0.7zM47.0 115.9h0.7v0.7h-0.7zM35.0 129.9h0.7v0.7h-0.7zM30.0 125.9h0.7v0.7h-0.7zM50.1 111.8h0.7v0.7h-0.7zM28.3 124.1h0.7v0.7h-0.7zM48.6 110.5h0.7v0.7h-0.7zM36.2 113.6h0.7v0.7h-0.7zM41.5 132.4h0.7v0.7h-0.7zM28.4 117.2h0.7v0.7h-0.7zM49.0 114.5h0.7v0.7h-0.7zM43.6 131.8h0.7v0.7h-0.7zM51.5 126.0h0.7v0.7h-0.7zM36.2 134.5h0.7v0.7h-0.7zM48.5 113.3h0.7v0.7h-0.7zM45.6 133.7h0.7v0.7h-0.7zM32.3 125.1h0.7v0.7h-0.7zM34.5 114.8h0.7v0.7h-0.7zM51.7 119.3h0.7v0.7h-0.7zM45.2 109.0h0.7v0.7h-0.7zM24.9 112.6h0.7v0.7h-0.7zM50.3 116.4h0.7v0.7h-0.7zM32.2 128.6h0.7v0.7h-0.7zM40.9 107.8h0.7v0.7h-0.7zM26.3 112.3h0.7v0.7h-0.7zM52.6 119.2h0.7v0.7h-0.7zM46.4 134.3h0.7v0.7h-0.7zM32.1 128.2h0.7v0.7h-0.7zM35.7 110.8h0.7v0.7h-0.7zM44.2 129.3h0.7v0.7h-0.7zM29.1 122.8h0.7v0.7h-0.7zM47.1 114.3h0.7v0.7h-0.7zM53.7 126.3h0.7v0.7h-0.7zM50.4 118.1h0.7v0.7h-0.7zM49.4 133.3h0.7v0.7h-0.7zM43.0 106.4h0.7v0.7h-0.7zM53.9 119.2h0.7v0.7h-0.7zM46.8 113.0h0.7v0.7h-0.7zM46.1 113.1h0.7v0.7h-0.7zM36.7 109.4h0.7v0.7h-0.7zM43.0 111.3h0.7v0.7h-0.7zM48.1 114.8h0.7v0.7h-0.7zM49.4 111.5h0.7v0.7h-0.7zM38.0 110.1h0.7v0.7h-0.7zM45.1 131.5h0.7v0.7h-0.7zM24.7 113.8h0.7v0.7h-0.7zM31.4 123.2h0.7v0.7h-0.7zM50.3 123.1h0.7v0.7h-0.7zM50.8 121.4h0.7v0.7h-0.7zM35.1 107.1h0.7v0.7h-0.7z" fill="#000" opacity="0.45"/>
<path d="M50.2 134.4h0.7v0.7h-0.7zM32.5 126.8h0.7v0.7h-0.7zM37.5 133.7h0.7v0.7h-0.7zM33.6 128.8h0.7v0.7h-0.7zM43.9 132.1h0.7v0.7h-0.7zM34.5 131.1h0.7v0.7h-0.7zM46.4 134.6h0.7v0.7h-0.7zM31.4 122.2h0.7v0.7h-0.7zM35.9 124.6h0.7v0.7h-0.7zM28.0 124.2h0.7v0.7h-0.7zM50.0 131.6h0.7v0.7h-0.7zM34.6 131.3h0.7v0.7h-0.7zM47.3 130.9h0.7v0.7h-0.7zM29.8 123.2h0.7v0.7h-0.7zM42.0 135.5h0.7v0.7h-0.7zM30.3 121.6h0.7v0.7h-0.7zM47.1 133.1h0.7v0.7h-0.7zM44.5 133.7h0.7v0.7h-0.7zM29.9 130.3h0.7v0.7h-0.7zM25.2 122.8h0.7v0.7h-0.7zM46.1 131.8h0.7v0.7h-0.7zM34.8 127.9h0.7v0.7h-0.7zM37.1 134.9h0.7v0.7h-0.7zM41.9 130.6h0.7v0.7h-0.7zM44.7 138.0h0.7v0.7h-0.7zM29.8 121.3h0.7v0.7h-0.7zM37.8 134.7h0.7v0.7h-0.7zM43.9 129.3h0.7v0.7h-0.7zM30.6 125.6h0.7v0.7h-0.7zM37.8 132.9h0.7v0.7h-0.7zM33.1 126.4h0.7v0.7h-0.7zM30.0 124.5h0.7v0.7h-0.7zM38.2 131.5h0.7v0.7h-0.7zM30.0 125.4h0.7v0.7h-0.7zM37.9 132.8h0.7v0.7h-0.7zM32.5 125.1h0.7v0.7h-0.7zM43.3 132.3h0.7v0.7h-0.7zM33.3 130.0h0.7v0.7h-0.7zM50.4 133.4h0.7v0.7h-0.7zM27.9 127.2h0.7v0.7h-0.7zM31.9 128.0h0.7v0.7h-0.7zM45.2 133.9h0.7v0.7h-0.7zM48.3 131.0h0.7v0.7h-0.7zM41.9 133.5h0.7v0.7h-0.7zM29.5 122.8h0.7v0.7h-0.7zM51.4 132.3h0.7v0.7h-0.7zM36.9 132.2h0.7v0.7h-0.7zM25.4 120.6h0.7v0.7h-0.7zM33.6 122.9h0.7v0.7h-0.7zM42.9 126.1h0.7v0.7h-0.7zM27.5 124.6h0.7v0.7h-0.7zM39.5 133.0h0.7v0.7h-0.7zM46.7 134.6h0.7v0.7h-0.7zM43.3 135.7h0.7v0.7h-0.7zM27.5 131.6h0.7v0.7h-0.7zM30.6 125.9h0.7v0.7h-0.7zM42.2 129.3h0.7v0.7h-0.7zM44.4 135.0h0.7v0.7h-0.7zM32.7 126.2h0.7v0.7h-0.7zM28.5 128.4h0.7v0.7h-0.7zM38.0 136.3h0.7v0.7h-0.7zM44.8 131.8h0.7v0.7h-0.7zM41.5 125.8h0.7v0.7h-0.7zM41.3 124.7h0.7v0.7h-0.7zM44.4 138.2h0.7v0.7h-0.7zM38.0 130.0h0.7v0.7h-0.7zM40.3 135.1h0.7v0.7h-0.7zM43.3 131.2h0.7v0.7h-0.7zM44.3 138.5h0.7v0.7h-0.7zM34.4 133.2h0.7v0.7h-0.7zM36.8 123.0h0.7v0.7h-0.7zM48.9 133.8h0.7v0.7h-0.7zM30.5 127.0h0.7v0.7h-0.7zM27.2 124.5h0.7v0.7h-0.7zM48.1 131.3h0.7v0.7h-0.7zM32.1 129.2h0.7v0.7h-0.7zM49.3 132.8h0.7v0.7h-0.7zM32.1 126.5h0.7v0.7h-0.7zM51.2 132.7h0.7v0.7h-0.7zM45.7 131.4h0.7v0.7h-0.7zM29.6 129.0h0.7v0.7h-0.7zM43.8 129.5h0.7v0.7h-0.7zM47.2 133.0h0.7v0.7h-0.7zM44.6 134.3h0.7v0.7h-0.7zM28.0 126.3h0.7v0.7h-0.7zM37.5 131.9h0.7v0.7h-0.7zM48.0 132.5h0.7v0.7h-0.7zM44.2 131.9h0.7v0.7h-0.7zM43.3 133.3h0.7v0.7h-0.7zM39.2 134.9h0.7v0.7h-0.7zM41.8 132.7h0.7v0.7h-0.7zM31.9 128.8h0.7v0.7h-0.7zM40.0 136.8h0.7v0.7h-0.7zM51.2 130.3h0.7v0.7h-0.7zM35.9 134.9h0.7v0.7h-0.7zM24.6 122.2h0.7v0.7h-0.7zM48.1 133.1h0.7v0.7h-0.7zM27.6 122.1h0.7v0.7h-0.7zM33.6 126.4h0.7v0.7h-0.7zM44.8 125.6h0.7v0.7h-0.7zM36.4 130.5h0.7v0.7h-0.7zM36.1 134.3h0.7v0.7h-0.7zM45.8 133.7h0.7v0.7h-0.7zM40.4 130.8h0.7v0.7h-0.7zM40.0 135.5h0.7v0.7h-0.7zM29.9 125.0h0.7v0.7h-0.7zM48.4 131.0h0.7v0.7h-0.7zM42.7 132.3h0.7v0.7h-0.7zM31.8 123.3h0.7v0.7h-0.7zM34.4 132.0h0.7v0.7h-0.7zM43.1 136.8h0.7v0.7h-0.7zM29.5 128.5h0.7v0.7h-0.7zM45.0 127.0h0.7v0.7h-0.7zM51.3 132.4h0.7v0.7h-0.7zM25.8 122.3h0.7v0.7h-0.7zM33.9 124.4h0.7v0.7h-0.7zM46.4 137.5h0.7v0.7h-0.7zM39.2 132.4h0.7v0.7h-0.7zM32.6 131.1h0.7v0.7h-0.7zM49.5 132.2h0.7v0.7h-0.7zM42.1 133.6h0.7v0.7h-0.7zM29.3 125.6h0.7v0.7h-0.7zM33.0 130.3h0.7v0.7h-0.7zM43.9 134.3h0.7v0.7h-0.7zM34.6 125.6h0.7v0.7h-0.7zM44.3 135.4h0.7v0.7h-0.7zM34.9 133.1h0.7v0.7h-0.7zM40.1 132.9h0.7v0.7h-0.7zM46.8 126.7h0.7v0.7h-0.7zM41.4 134.4h0.7v0.7h-0.7zM35.4 130.2h0.7v0.7h-0.7zM44.7 133.8h0.7v0.7h-0.7zM31.0 122.3h0.7v0.7h-0.7zM32.8 123.3h0.7v0.7h-0.7zM41.5 129.8h0.7v0.7h-0.7zM45.8 134.2h0.7v0.7h-0.7zM43.4 131.5h0.7v0.7h-0.7zM46.2 130.5h0.7v0.7h-0.7zM44.8 133.4h0.7v0.7h-0.7zM33.7 128.4h0.7v0.7h-0.7zM38.3 131.0h0.7v0.7h-0.7zM33.7 129.6h0.7v0.7h-0.7zM26.4 127.6h0.7v0.7h-0.7zM48.0 132.0h0.7v0.7h-0.7zM27.9 122.8h0.7v0.7h-0.7zM47.3 134.4h0.7v0.7h-0.7zM31.8 125.8h0.7v0.7h-0.7zM41.6 135.9h0.7v0.7h-0.7zM44.4 130.9h0.7v0.7h-0.7zM48.4 135.0h0.7v0.7h-0.7z" fill="#000" opacity="0.4"/>
<path d="M40.3 121.0h0.7v0.7h-0.7zM38.1 126.3h0.7v0.7h-0.7zM37.3 120.2h0.7v0.7h-0.7zM39.8 122.6h0.7v0.7h-0.7zM35.5 122.8h0.7v0.7h-0.7zM40.7 121.4h0.7v0.7h-0.7zM42.3 123.4h0.7v0.7h-0.7zM40.2 120.1h0.7v0.7h-0.7zM40.7 120.6h0.7v0.7h-0.7zM43.9 122.0h0.7v0.7h-0.7zM40.1 116.6h0.7v0.7h-0.7zM39.3 120.5h0.7v0.7h-0.7zM40.0 121.6h0.7v0.7h-0.7zM45.6 126.9h0.7v0.7h-0.7zM34.0 115.5h0.7v0.7h-0.7zM39.0 120.4h0.7v0.7h-0.7zM42.2 121.9h0.7v0.7h-0.7zM47.0 124.8h0.7v0.7h-0.7zM36.8 122.1h0.7v0.7h-0.7zM42.5 119.9h0.7v0.7h-0.7zM39.7 120.6h0.7v0.7h-0.7zM38.2 120.2h0.7v0.7h-0.7zM41.3 120.5h0.7v0.7h-0.7zM44.3 120.9h0.7v0.7h-0.7zM41.7 124.5h0.7v0.7h-0.7zM41.1 122.3h0.7v0.7h-0.7zM40.1 118.0h0.7v0.7h-0.7zM40.1 121.2h0.7v0.7h-0.7zM37.0 120.2h0.7v0.7h-0.7zM39.2 122.4h0.7v0.7h-0.7zM38.7 122.1h0.7v0.7h-0.7zM40.3 120.6h0.7v0.7h-0.7zM35.6 118.9h0.7v0.7h-0.7zM40.3 120.6h0.7v0.7h-0.7zM41.6 128.3h0.7v0.7h-0.7zM40.7 123.1h0.7v0.7h-0.7zM38.2 124.0h0.7v0.7h-0.7zM39.9 117.0h0.7v0.7h-0.7zM41.5 118.7h0.7v0.7h-0.7zM43.1 122.0h0.7v0.7h-0.7zM39.2 120.2h0.7v0.7h-0.7zM42.4 120.7h0.7v0.7h-0.7zM41.9 125.5h0.7v0.7h-0.7zM41.1 121.6h0.7v0.7h-0.7zM38.6 122.2h0.7v0.7h-0.7zM37.6 122.9h0.7v0.7h-0.7zM41.1 120.0h0.7v0.7h-0.7zM40.0 124.3h0.7v0.7h-0.7zM36.5 124.3h0.7v0.7h-0.7zM39.3 122.9h0.7v0.7h-0.7zM41.1 122.2h0.7v0.7h-0.7zM45.4 118.6h0.7v0.7h-0.7zM39.7 120.5h0.7v0.7h-0.7zM42.0 120.1h0.7v0.7h-0.7zM36.5 126.3h0.7v0.7h-0.7zM39.1 119.5h0.7v0.7h-0.7zM39.8 119.4h0.7v0.7h-0.7zM40.1 121.0h0.7v0.7h-0.7zM41.3 118.4h0.7v0.7h-0.7zM39.4 121.2h0.7v0.7h-0.7zM40.9 123.7h0.7v0.7h-0.7zM31.6 114.0h0.7v0.7h-0.7zM39.7 121.2h0.7v0.7h-0.7zM40.8 123.7h0.7v0.7h-0.7zM40.6 122.2h0.7v0.7h-0.7zM41.1 122.3h0.7v0.7h-0.7zM41.4 119.7h0.7v0.7h-0.7zM44.5 121.4h0.7v0.7h-0.7zM40.0 120.8h0.7v0.7h-0.7zM40.5 123.5h0.7v0.7h-0.7zM40.0 120.9h0.7v0.7h-0.7zM32.6 119.4h0.7v0.7h-0.7zM40.6 122.0h0.7v0.7h-0.7zM33.5 120.3h0.7v0.7h-0.7zM39.5 121.1h0.7v0.7h-0.7zM41.7 121.5h0.7v0.7h-0.7zM40.5 124.3h0.7v0.7h-0.7zM34.7 123.0h0.7v0.7h-0.7zM34.3 123.9h0.7v0.7h-0.7zM44.7 126.2h0.7v0.7h-0.7zM43.6 126.6h0.7v0.7h-0.7zM41.7 119.3h0.7v0.7h-0.7zM40.5 119.3h0.7v0.7h-0.7zM37.6 127.0h0.7v0.7h-0.7zM39.9 123.8h0.7v0.7h-0.7zM40.8 120.7h0.7v0.7h-0.7zM39.3 119.8h0.7v0.7h-0.7zM34.7 131.0h0.7v0.7h-0.7zM40.9 122.3h0.7v0.7h-0.7zM38.0 115.4h0.7v0.7h-0.7zM40.5 122.5h0.7v0.7h-0.7zM38.9 122.9h0.7v0.7h-0.7zM36.9 123.2h0.7v0.7h-0.7zM39.5 120.2h0.7v0.7h-0.7zM40.7 123.8h0.7v0.7h-0.7zM43.8 122.9h0.7v0.7h-0.7zM32.7 121.5h0.7v0.7h-0.7zM40.6 120.5h0.7v0.7h-0.7zM40.9 120.5h0.7v0.7h-0.7zM38.9 124.1h0.7v0.7h-0.7zM39.9 120.9h0.7v0.7h-0.7zM37.2 121.5h0.7v0.7h-0.7zM40.1 120.1h0.7v0.7h-0.7zM32.0 116.7h0.7v0.7h-0.7zM39.5 122.6h0.7v0.7h-0.7zM40.9 121.0h0.7v0.7h-0.7zM40.7 122.9h0.7v0.7h-0.7zM41.4 123.6h0.7v0.7h-0.7zM37.8 124.0h0.7v0.7h-0.7zM39.7 121.3h0.7v0.7h-0.7z" fill="#000" opacity="0.4"/>
<path d="M44 118.1 V139.75" stroke="#555" stroke-width="0.8"/>
<rect x="44" y="118.1" width="16.00" height="21.65" fill="none" stroke="#aaa" stroke-width="0.8" opacity="1"/>
<text x="54.4" y="115" font-size="8.7" text-anchor="start" font-weight="normal" style="stroke-width:0.45px">14.9</text>
<path d="M6.5 44.75 V154.5 H36.5" fill="none" stroke="#000" stroke-width="1.4"/>
<path d="M2.5 48.75 L6.5 44.15 L10.5 48.75" fill="none" stroke="#000" stroke-width="1.4"/>
<path d="M30.5 150.7 L37.1 154.5 L30.5 158.3" fill="none" stroke="#000" stroke-width="1.4"/>
<text transform="translate(9.2 27.7) rotate(-90)" font-size="8.5" text-anchor="middle" font-weight="bold">CD127</text>
<text x="43.1" y="157.4" font-size="8.5" text-anchor="start" font-weight="normal" style="stroke-width:0.6px">FOXP3</text>
<rect x="13.2" y="192.6" width="58.50" height="57.90" fill="#fff" stroke="#808080" stroke-width="0.8"/>
<path d="M13.2 192.6 V250.5" fill="none" stroke="#222" stroke-width="1.3"/>
<text x="42.5" y="186.9" font-size="8.8" text-anchor="middle" font-weight="normal" style="stroke-width:0.5px">no RTX</text>
<g filter="url(#b1)">
<path d="M22.6 237 Q23 229 31 225 Q36 222.8 44 223 L49.5 223.6 L49.5 245.3 Q45 246 38 245.8 Q28 245.5 24.5 242.5 Q22.5 240.5 22.6 237 Z" fill="#fafafa"/>
<path d="M49.5 223.6 L44 223 Q36 222.8 31 225 Q23 229 22.6 237 Q22.5 240.5 24.5 242.5 Q28 245.5 38 245.8 L45 245.9" fill="none" stroke="#777" stroke-width="0.8"/>
<path d="M30 238 Q31 230 38 227 L49 226.5 L49 245 L38 245 Q30.5 244 30 238 Z" fill="#efefef"/>
<path d="M37.5 239 Q38.5 232 43 229 L49 229 L49 245 L41 245 Q37.5 243.5 37.5 239 Z" fill="#d6d6d6"/>
<path d="M41.5 240 Q42 234 44.5 231 L48.8 231 L48.8 245 L43 245 Q41.3 243.5 41.5 240 Z" fill="#a6a6a6"/>
<path d="M44.2 232.5 Q45.8 230.5 47.3 232 L47.6 243.5 Q47 245.6 44 245.4 L40.5 245 Q40 244 41.5 243.8 L44 243.6 Z" fill="#0c0c0c"/>
</g>
<path d="M44.6 239.4h0.8v0.8h-0.8zM38.3 226.6h0.8v0.8h-0.8zM39.9 236.0h0.8v0.8h-0.8zM41.7 238.5h0.8v0.8h-0.8zM38.6 237.0h0.8v0.8h-0.8zM39.6 235.8h0.8v0.8h-0.8zM38.1 237.1h0.8v0.8h-0.8zM43.4 231.0h0.8v0.8h-0.8zM41.3 236.6h0.8v0.8h-0.8zM33.2 243.5h0.8v0.8h-0.8zM39.7 235.6h0.8v0.8h-0.8zM39.8 235.7h0.8v0.8h-0.8zM40.9 234.7h0.8v0.8h-0.8zM43.8 238.7h0.8v0.8h-0.8zM40.2 238.7h0.8v0.8h-0.8zM35.8 235.0h0.8v0.8h-0.8zM39.9 236.2h0.8v0.8h-0.8zM48.3 238.0h0.8v0.8h-0.8zM39.8 240.7h0.8v0.8h-0.8zM38.4 235.5h0.8v0.8h-0.8zM48.9 235.4h0.8v0.8h-0.8zM34.4 234.9h0.8v0.8h-0.8zM40.2 238.3h0.8v0.8h-0.8zM41.7 236.5h0.8v0.8h-0.8zM40.4 234.8h0.8v0.8h-0.8zM39.8 232.1h0.8v0.8h-0.8zM45.1 238.8h0.8v0.8h-0.8zM51.1 235.9h0.8v0.8h-0.8zM38.0 236.9h0.8v0.8h-0.8zM38.0 235.1h0.8v0.8h-0.8zM41.7 237.5h0.8v0.8h-0.8zM40.2 239.6h0.8v0.8h-0.8zM41.9 225.1h0.8v0.8h-0.8zM40.4 235.2h0.8v0.8h-0.8zM41.4 236.6h0.8v0.8h-0.8zM40.6 238.3h0.8v0.8h-0.8zM40.4 233.7h0.8v0.8h-0.8zM44.3 238.3h0.8v0.8h-0.8zM40.2 232.8h0.8v0.8h-0.8zM39.1 237.9h0.8v0.8h-0.8zM40.3 235.9h0.8v0.8h-0.8zM40.4 234.5h0.8v0.8h-0.8zM42.4 238.9h0.8v0.8h-0.8zM40.1 235.8h0.8v0.8h-0.8zM40.5 232.1h0.8v0.8h-0.8zM34.4 224.0h0.8v0.8h-0.8zM39.9 235.6h0.8v0.8h-0.8zM40.1 235.9h0.8v0.8h-0.8zM45.7 237.2h0.8v0.8h-0.8zM40.9 236.4h0.8v0.8h-0.8zM30.3 229.3h0.8v0.8h-0.8zM44.8 237.4h0.8v0.8h-0.8zM34.6 241.5h0.8v0.8h-0.8zM45.0 235.2h0.8v0.8h-0.8zM37.8 234.9h0.8v0.8h-0.8zM41.0 229.5h0.8v0.8h-0.8zM39.4 236.0h0.8v0.8h-0.8zM36.7 244.7h0.8v0.8h-0.8zM50.8 239.4h0.8v0.8h-0.8zM39.0 234.0h0.8v0.8h-0.8zM43.6 241.6h0.8v0.8h-0.8zM45.7 233.8h0.8v0.8h-0.8zM39.9 236.0h0.8v0.8h-0.8zM35.0 229.3h0.8v0.8h-0.8zM32.9 228.9h0.8v0.8h-0.8zM41.5 231.9h0.8v0.8h-0.8zM40.0 233.4h0.8v0.8h-0.8zM36.6 234.1h0.8v0.8h-0.8zM34.3 233.9h0.8v0.8h-0.8zM45.5 233.8h0.8v0.8h-0.8zM47.1 230.6h0.8v0.8h-0.8zM37.6 237.7h0.8v0.8h-0.8zM39.4 235.4h0.8v0.8h-0.8zM35.7 239.7h0.8v0.8h-0.8zM41.3 235.6h0.8v0.8h-0.8zM42.5 227.4h0.8v0.8h-0.8zM37.0 231.5h0.8v0.8h-0.8zM38.7 239.4h0.8v0.8h-0.8zM36.0 247.1h0.8v0.8h-0.8zM47.1 229.8h0.8v0.8h-0.8zM35.3 236.7h0.8v0.8h-0.8zM41.8 238.1h0.8v0.8h-0.8zM34.5 234.5h0.8v0.8h-0.8zM36.8 236.6h0.8v0.8h-0.8zM50.4 238.0h0.8v0.8h-0.8zM45.3 232.0h0.8v0.8h-0.8zM40.2 240.1h0.8v0.8h-0.8zM40.9 240.0h0.8v0.8h-0.8zM43.7 233.5h0.8v0.8h-0.8zM38.6 237.1h0.8v0.8h-0.8zM41.6 238.6h0.8v0.8h-0.8zM36.7 240.0h0.8v0.8h-0.8zM52.1 233.2h0.8v0.8h-0.8zM38.0 240.8h0.8v0.8h-0.8zM43.1 225.2h0.8v0.8h-0.8zM31.6 229.9h0.8v0.8h-0.8zM29.5 243.8h0.8v0.8h-0.8zM41.9 236.1h0.8v0.8h-0.8zM40.1 238.2h0.8v0.8h-0.8zM34.6 233.8h0.8v0.8h-0.8zM36.0 228.7h0.8v0.8h-0.8zM41.1 235.9h0.8v0.8h-0.8zM34.5 227.4h0.8v0.8h-0.8zM40.1 236.1h0.8v0.8h-0.8zM35.6 238.3h0.8v0.8h-0.8zM37.5 235.8h0.8v0.8h-0.8zM38.7 240.0h0.8v0.8h-0.8zM39.1 238.2h0.8v0.8h-0.8zM49.0 232.6h0.8v0.8h-0.8zM43.2 228.4h0.8v0.8h-0.8zM36.5 236.1h0.8v0.8h-0.8zM35.2 224.6h0.8v0.8h-0.8zM41.2 235.1h0.8v0.8h-0.8zM43.0 238.5h0.8v0.8h-0.8zM36.0 235.7h0.8v0.8h-0.8zM43.3 240.3h0.8v0.8h-0.8zM44.3 234.7h0.8v0.8h-0.8zM24.6 237.5h0.8v0.8h-0.8zM39.9 236.6h0.8v0.8h-0.8zM42.6 241.7h0.8v0.8h-0.8zM43.9 235.9h0.8v0.8h-0.8zM47.3 248.8h0.8v0.8h-0.8zM33.0 229.5h0.8v0.8h-0.8zM40.0 236.2h0.8v0.8h-0.8zM38.6 235.6h0.8v0.8h-0.8zM28.3 243.0h0.8v0.8h-0.8zM34.8 230.3h0.8v0.8h-0.8zM33.8 236.2h0.8v0.8h-0.8zM40.8 235.5h0.8v0.8h-0.8zM38.3 239.1h0.8v0.8h-0.8zM46.4 237.8h0.8v0.8h-0.8zM36.6 235.4h0.8v0.8h-0.8zM41.0 233.7h0.8v0.8h-0.8zM42.6 237.0h0.8v0.8h-0.8zM36.9 229.8h0.8v0.8h-0.8zM52.6 228.5h0.8v0.8h-0.8zM41.6 227.8h0.8v0.8h-0.8zM38.8 237.3h0.8v0.8h-0.8zM43.8 233.2h0.8v0.8h-0.8zM29.1 237.6h0.8v0.8h-0.8zM31.5 241.4h0.8v0.8h-0.8zM38.4 232.9h0.8v0.8h-0.8zM41.2 232.1h0.8v0.8h-0.8zM28.7 237.8h0.8v0.8h-0.8zM33.0 229.8h0.8v0.8h-0.8zM36.7 236.0h0.8v0.8h-0.8zM41.7 234.8h0.8v0.8h-0.8zM41.4 236.4h0.8v0.8h-0.8zM35.7 229.8h0.8v0.8h-0.8zM41.3 234.3h0.8v0.8h-0.8zM38.9 236.8h0.8v0.8h-0.8zM38.1 227.5h0.8v0.8h-0.8zM44.4 230.6h0.8v0.8h-0.8zM40.7 236.6h0.8v0.8h-0.8zM39.7 235.9h0.8v0.8h-0.8zM39.0 233.4h0.8v0.8h-0.8zM34.6 241.9h0.8v0.8h-0.8zM50.1 234.9h0.8v0.8h-0.8zM47.3 240.6h0.8v0.8h-0.8zM35.3 232.8h0.8v0.8h-0.8zM37.4 226.3h0.8v0.8h-0.8zM41.9 235.2h0.8v0.8h-0.8zM39.4 232.8h0.8v0.8h-0.8zM39.8 231.5h0.8v0.8h-0.8zM42.5 232.5h0.8v0.8h-0.8zM40.9 232.9h0.8v0.8h-0.8zM34.3 236.0h0.8v0.8h-0.8zM36.4 241.4h0.8v0.8h-0.8zM44.8 241.6h0.8v0.8h-0.8zM38.8 224.3h0.8v0.8h-0.8zM38.1 242.9h0.8v0.8h-0.8zM41.4 241.5h0.8v0.8h-0.8zM52.5 241.1h0.8v0.8h-0.8zM44.3 236.1h0.8v0.8h-0.8zM38.0 236.8h0.8v0.8h-0.8zM40.3 237.4h0.8v0.8h-0.8zM35.1 226.6h0.8v0.8h-0.8zM41.9 233.7h0.8v0.8h-0.8zM42.0 233.5h0.8v0.8h-0.8zM40.3 239.5h0.8v0.8h-0.8zM43.7 236.7h0.8v0.8h-0.8zM45.7 235.0h0.8v0.8h-0.8zM39.4 238.4h0.8v0.8h-0.8zM37.2 232.6h0.8v0.8h-0.8zM43.6 233.5h0.8v0.8h-0.8zM39.7 234.9h0.8v0.8h-0.8zM31.1 235.5h0.8v0.8h-0.8zM36.4 233.3h0.8v0.8h-0.8zM37.9 238.3h0.8v0.8h-0.8zM38.1 235.2h0.8v0.8h-0.8zM41.7 236.2h0.8v0.8h-0.8zM28.3 234.8h0.8v0.8h-0.8zM42.2 246.1h0.8v0.8h-0.8zM39.4 236.2h0.8v0.8h-0.8zM32.8 235.9h0.8v0.8h-0.8zM47.4 235.0h0.8v0.8h-0.8zM44.7 236.9h0.8v0.8h-0.8zM32.8 234.4h0.8v0.8h-0.8zM39.6 237.3h0.8v0.8h-0.8zM47.3 233.2h0.8v0.8h-0.8zM40.2 237.6h0.8v0.8h-0.8zM37.8 235.3h0.8v0.8h-0.8zM44.8 235.3h0.8v0.8h-0.8zM39.0 235.5h0.8v0.8h-0.8zM42.1 239.7h0.8v0.8h-0.8zM40.3 235.4h0.8v0.8h-0.8zM46.1 234.4h0.8v0.8h-0.8zM39.6 238.5h0.8v0.8h-0.8zM38.7 237.0h0.8v0.8h-0.8zM47.9 233.9h0.8v0.8h-0.8zM43.9 232.7h0.8v0.8h-0.8zM45.3 237.7h0.8v0.8h-0.8zM36.8 231.5h0.8v0.8h-0.8zM39.9 240.9h0.8v0.8h-0.8zM33.9 238.6h0.8v0.8h-0.8zM46.6 234.8h0.8v0.8h-0.8zM42.3 241.3h0.8v0.8h-0.8zM37.7 234.2h0.8v0.8h-0.8zM40.2 233.7h0.8v0.8h-0.8zM40.9 236.4h0.8v0.8h-0.8zM40.1 235.4h0.8v0.8h-0.8zM40.1 235.6h0.8v0.8h-0.8zM43.4 245.8h0.8v0.8h-0.8zM40.1 233.4h0.8v0.8h-0.8zM41.1 231.8h0.8v0.8h-0.8zM40.6 236.1h0.8v0.8h-0.8zM49.0 236.8h0.8v0.8h-0.8zM33.4 243.9h0.8v0.8h-0.8zM36.1 231.6h0.8v0.8h-0.8zM39.9 228.6h0.8v0.8h-0.8zM38.6 234.7h0.8v0.8h-0.8zM37.7 235.1h0.8v0.8h-0.8zM44.5 239.2h0.8v0.8h-0.8zM39.8 233.7h0.8v0.8h-0.8zM46.3 237.1h0.8v0.8h-0.8zM39.8 235.2h0.8v0.8h-0.8zM43.8 231.8h0.8v0.8h-0.8zM36.3 239.9h0.8v0.8h-0.8zM44.4 238.3h0.8v0.8h-0.8zM36.9 240.6h0.8v0.8h-0.8zM52.7 234.3h0.8v0.8h-0.8zM42.9 232.4h0.8v0.8h-0.8zM39.3 236.5h0.8v0.8h-0.8zM34.8 242.2h0.8v0.8h-0.8zM44.5 247.0h0.8v0.8h-0.8zM39.4 238.8h0.8v0.8h-0.8zM41.1 229.4h0.8v0.8h-0.8zM38.9 229.3h0.8v0.8h-0.8zM29.0 240.2h0.8v0.8h-0.8zM45.3 241.7h0.8v0.8h-0.8zM33.3 234.8h0.8v0.8h-0.8zM46.8 237.1h0.8v0.8h-0.8zM54.0 243.7h0.8v0.8h-0.8zM40.5 233.8h0.8v0.8h-0.8zM47.1 232.1h0.8v0.8h-0.8zM42.8 232.9h0.8v0.8h-0.8zM33.0 237.6h0.8v0.8h-0.8zM40.1 235.4h0.8v0.8h-0.8zM40.1 236.4h0.8v0.8h-0.8z" fill="#000" opacity="0.3"/>
<path d="M41.9 209.7h0.8v0.8h-0.8zM43.2 206.6h0.8v0.8h-0.8zM45.9 205.3h0.8v0.8h-0.8zM43.8 206.5h0.8v0.8h-0.8zM40.8 199.2h0.8v0.8h-0.8zM40.1 205.5h0.8v0.8h-0.8zM42.3 205.5h0.8v0.8h-0.8zM41.7 205.5h0.8v0.8h-0.8zM45.6 200.0h0.8v0.8h-0.8zM42.2 208.1h0.8v0.8h-0.8zM43.4 206.2h0.8v0.8h-0.8zM41.6 208.0h0.8v0.8h-0.8zM41.3 210.5h0.8v0.8h-0.8zM46.4 200.8h0.8v0.8h-0.8zM47.0 208.3h0.8v0.8h-0.8zM42.8 212.3h0.8v0.8h-0.8zM42.4 205.1h0.8v0.8h-0.8zM44.0 205.8h0.8v0.8h-0.8zM43.5 215.0h0.8v0.8h-0.8zM42.5 208.0h0.8v0.8h-0.8zM47.2 204.0h0.8v0.8h-0.8zM43.8 208.8h0.8v0.8h-0.8zM39.9 205.9h0.8v0.8h-0.8zM43.9 208.8h0.8v0.8h-0.8zM42.6 205.8h0.8v0.8h-0.8zM43.5 206.0h0.8v0.8h-0.8zM41.6 207.6h0.8v0.8h-0.8zM41.3 205.7h0.8v0.8h-0.8zM45.6 206.1h0.8v0.8h-0.8zM41.9 209.3h0.8v0.8h-0.8zM43.3 208.3h0.8v0.8h-0.8zM40.5 202.2h0.8v0.8h-0.8zM41.0 205.2h0.8v0.8h-0.8zM43.7 198.3h0.8v0.8h-0.8zM41.9 206.0h0.8v0.8h-0.8zM39.3 201.7h0.8v0.8h-0.8zM41.4 207.0h0.8v0.8h-0.8zM42.9 210.9h0.8v0.8h-0.8zM44.2 201.8h0.8v0.8h-0.8zM42.8 210.7h0.8v0.8h-0.8zM40.3 198.8h0.8v0.8h-0.8zM43.5 207.8h0.8v0.8h-0.8zM41.7 207.8h0.8v0.8h-0.8zM41.7 204.3h0.8v0.8h-0.8zM43.4 206.3h0.8v0.8h-0.8zM44.5 207.5h0.8v0.8h-0.8zM42.0 210.6h0.8v0.8h-0.8zM41.4 216.3h0.8v0.8h-0.8zM42.4 208.3h0.8v0.8h-0.8zM42.8 209.6h0.8v0.8h-0.8zM42.3 207.1h0.8v0.8h-0.8zM42.6 206.5h0.8v0.8h-0.8zM45.4 207.4h0.8v0.8h-0.8zM44.1 206.1h0.8v0.8h-0.8zM42.6 206.0h0.8v0.8h-0.8zM42.5 206.8h0.8v0.8h-0.8zM42.8 208.2h0.8v0.8h-0.8zM42.4 206.3h0.8v0.8h-0.8zM43.7 206.3h0.8v0.8h-0.8zM43.7 199.8h0.8v0.8h-0.8zM42.1 211.0h0.8v0.8h-0.8zM42.4 215.7h0.8v0.8h-0.8zM44.7 200.9h0.8v0.8h-0.8zM43.8 208.5h0.8v0.8h-0.8zM43.1 210.3h0.8v0.8h-0.8zM44.3 206.6h0.8v0.8h-0.8zM40.5 203.7h0.8v0.8h-0.8zM42.5 208.0h0.8v0.8h-0.8zM43.4 202.5h0.8v0.8h-0.8zM45.2 208.5h0.8v0.8h-0.8zM41.9 207.6h0.8v0.8h-0.8zM42.5 208.1h0.8v0.8h-0.8zM42.5 207.6h0.8v0.8h-0.8zM42.5 209.5h0.8v0.8h-0.8zM43.0 209.9h0.8v0.8h-0.8zM44.3 208.9h0.8v0.8h-0.8zM41.2 212.8h0.8v0.8h-0.8zM44.7 210.1h0.8v0.8h-0.8zM43.1 212.9h0.8v0.8h-0.8zM43.6 208.8h0.8v0.8h-0.8zM44.2 205.9h0.8v0.8h-0.8zM47.2 203.3h0.8v0.8h-0.8zM42.1 207.0h0.8v0.8h-0.8zM41.9 206.2h0.8v0.8h-0.8zM46.2 200.9h0.8v0.8h-0.8zM42.2 205.1h0.8v0.8h-0.8zM43.1 207.6h0.8v0.8h-0.8zM41.5 206.1h0.8v0.8h-0.8zM43.6 207.2h0.8v0.8h-0.8zM42.0 212.6h0.8v0.8h-0.8zM44.2 207.1h0.8v0.8h-0.8zM44.9 211.4h0.8v0.8h-0.8zM40.1 203.2h0.8v0.8h-0.8zM42.4 207.8h0.8v0.8h-0.8zM44.0 209.5h0.8v0.8h-0.8zM43.4 208.9h0.8v0.8h-0.8zM42.4 206.3h0.8v0.8h-0.8zM41.5 207.5h0.8v0.8h-0.8zM42.0 207.6h0.8v0.8h-0.8zM42.1 203.4h0.8v0.8h-0.8zM44.6 203.6h0.8v0.8h-0.8zM47.9 201.6h0.8v0.8h-0.8zM42.4 212.4h0.8v0.8h-0.8zM42.0 208.8h0.8v0.8h-0.8zM44.2 207.7h0.8v0.8h-0.8zM44.0 204.7h0.8v0.8h-0.8zM41.4 213.0h0.8v0.8h-0.8zM43.6 216.5h0.8v0.8h-0.8zM45.2 212.6h0.8v0.8h-0.8zM42.9 211.4h0.8v0.8h-0.8zM41.0 204.6h0.8v0.8h-0.8zM43.2 205.9h0.8v0.8h-0.8zM42.6 206.8h0.8v0.8h-0.8zM42.0 206.3h0.8v0.8h-0.8zM44.6 209.3h0.8v0.8h-0.8zM42.0 208.1h0.8v0.8h-0.8zM42.5 209.9h0.8v0.8h-0.8zM43.3 209.1h0.8v0.8h-0.8zM42.3 209.1h0.8v0.8h-0.8z" fill="#000" opacity="0.33"/>
<path d="M27.9 248.3h0.6v0.6h-0.6zM24.9 235.5h0.6v0.6h-0.6zM26.5 226.9h0.6v0.6h-0.6zM29.4 219.8h0.6v0.6h-0.6zM25.7 233.2h0.6v0.6h-0.6zM37.5 219.2h0.6v0.6h-0.6zM36.0 223.6h0.6v0.6h-0.6zM41.2 222.2h0.6v0.6h-0.6zM40.2 230.2h0.6v0.6h-0.6zM31.1 211.9h0.6v0.6h-0.6zM30.6 227.1h0.6v0.6h-0.6zM28.6 248.2h0.6v0.6h-0.6zM36.6 228.4h0.6v0.6h-0.6zM26.7 232.0h0.6v0.6h-0.6zM28.1 238.7h0.6v0.6h-0.6zM31.3 229.2h0.6v0.6h-0.6zM22.0 224.7h0.6v0.6h-0.6zM29.6 228.0h0.6v0.6h-0.6zM36.6 224.0h0.6v0.6h-0.6zM34.4 230.0h0.6v0.6h-0.6zM30.3 229.0h0.6v0.6h-0.6zM30.6 238.3h0.6v0.6h-0.6zM25.0 237.1h0.6v0.6h-0.6zM26.5 228.4h0.6v0.6h-0.6zM50.9 216.5h0.6v0.6h-0.6zM24.1 234.7h0.6v0.6h-0.6zM33.1 229.3h0.6v0.6h-0.6zM22.8 226.9h0.6v0.6h-0.6zM30.4 228.3h0.6v0.6h-0.6zM30.9 223.5h0.6v0.6h-0.6zM32.8 231.5h0.6v0.6h-0.6zM39.1 235.3h0.6v0.6h-0.6zM29.9 228.9h0.6v0.6h-0.6zM29.1 224.6h0.6v0.6h-0.6zM29.5 228.1h0.6v0.6h-0.6zM23.0 219.8h0.6v0.6h-0.6zM33.7 217.5h0.6v0.6h-0.6zM27.3 220.7h0.6v0.6h-0.6zM38.4 230.0h0.6v0.6h-0.6zM24.1 216.6h0.6v0.6h-0.6zM33.5 232.8h0.6v0.6h-0.6zM34.7 223.3h0.6v0.6h-0.6zM23.0 244.5h0.6v0.6h-0.6zM27.6 223.9h0.6v0.6h-0.6zM29.7 227.6h0.6v0.6h-0.6zM28.6 228.4h0.6v0.6h-0.6zM27.5 210.5h0.6v0.6h-0.6zM28.9 233.7h0.6v0.6h-0.6zM33.8 227.3h0.6v0.6h-0.6zM27.6 234.4h0.6v0.6h-0.6zM30.5 229.9h0.6v0.6h-0.6zM30.4 228.8h0.6v0.6h-0.6zM28.0 230.7h0.6v0.6h-0.6zM29.8 228.3h0.6v0.6h-0.6zM30.4 227.5h0.6v0.6h-0.6zM32.9 241.9h0.6v0.6h-0.6zM32.8 225.9h0.6v0.6h-0.6zM26.7 237.4h0.6v0.6h-0.6zM30.6 224.7h0.6v0.6h-0.6zM30.8 202.2h0.6v0.6h-0.6zM33.7 228.9h0.6v0.6h-0.6zM28.0 219.4h0.6v0.6h-0.6zM29.3 227.6h0.6v0.6h-0.6zM33.2 222.0h0.6v0.6h-0.6zM32.4 232.1h0.6v0.6h-0.6zM19.5 229.9h0.6v0.6h-0.6zM25.3 226.3h0.6v0.6h-0.6zM26.0 226.1h0.6v0.6h-0.6z" fill="#000" opacity="0.22"/>
<path d="M59.3 249.3h0.6v0.6h-0.6zM49.5 249.5h0.6v0.6h-0.6zM53.6 249.7h0.6v0.6h-0.6zM19.6 249.5h0.6v0.6h-0.6zM45.5 249.0h0.6v0.6h-0.6zM41.8 249.5h0.6v0.6h-0.6zM44.8 249.4h0.6v0.6h-0.6zM41.2 248.8h0.6v0.6h-0.6zM46.1 249.4h0.6v0.6h-0.6zM26.1 249.4h0.6v0.6h-0.6zM42.2 249.3h0.6v0.6h-0.6zM48.2 249.4h0.6v0.6h-0.6zM50.4 249.4h0.6v0.6h-0.6zM37.2 249.1h0.6v0.6h-0.6zM38.0 249.0h0.6v0.6h-0.6zM33.5 249.3h0.6v0.6h-0.6zM35.7 249.3h0.6v0.6h-0.6zM28.6 249.3h0.6v0.6h-0.6zM24.0 249.2h0.6v0.6h-0.6zM41.8 249.5h0.6v0.6h-0.6zM23.7 249.6h0.6v0.6h-0.6zM23.3 248.8h0.6v0.6h-0.6zM32.1 249.4h0.6v0.6h-0.6zM43.4 249.2h0.6v0.6h-0.6zM35.3 248.9h0.6v0.6h-0.6zM43.9 249.5h0.6v0.6h-0.6zM35.0 249.6h0.6v0.6h-0.6zM37.6 249.4h0.6v0.6h-0.6zM44.1 248.7h0.6v0.6h-0.6zM33.3 249.3h0.6v0.6h-0.6zM48.6 249.4h0.6v0.6h-0.6zM57.0 249.2h0.6v0.6h-0.6zM44.8 249.4h0.6v0.6h-0.6zM41.7 249.0h0.6v0.6h-0.6zM29.0 249.5h0.6v0.6h-0.6zM16.0 248.7h0.6v0.6h-0.6z" fill="#000" opacity="0.4"/>
<rect x="35.5" y="195.2" width="14.25" height="25.90" fill="none" stroke="#888" stroke-width="0.8" opacity="1"/>
<text x="52.3" y="206.4" font-size="9" text-anchor="start" font-weight="normal" style="stroke-width:0.45px">2.0</text>
<rect x="14.6" y="263" width="59.00" height="57.00" fill="#fff" stroke="#808080" stroke-width="0.8"/>
<path d="M14.6 263 V320" fill="none" stroke="#333" stroke-width="1.1"/>
<text x="45" y="259.5" font-size="8.8" text-anchor="middle" font-weight="normal" style="stroke-width:0.5px">RTX</text>
<g filter="url(#b1)">
<path d="M24.5 298 Q24.5 293.3 29 293.2 L47 293.2 Q49.3 293.5 49.3 297 L49.3 312 Q49.3 315 46 315 L29 315 Q24.5 314.8 24.5 310 Z" fill="#e6e6e6" stroke="#6a6a6a" stroke-width="1.3"/>
<path d="M27.6 299 Q27.6 296.3 30.5 296.3 L44 296.3 L44 312 L30.5 312 Q27.6 312 27.6 309.5 Z" fill="#dadada" stroke="#fafafa" stroke-width="1.1"/>
<rect x="43.9" y="293.9" width="3.5" height="19.8" rx="1.3" fill="#0a0a0a"/>
<path d="M28 314 H47" stroke="#1a1a1a" stroke-width="1.9"/>
</g>
<path d="M39.1 301.0h0.6v0.6h-0.6zM38.8 301.5h0.6v0.6h-0.6zM33.6 301.8h0.6v0.6h-0.6zM31.9 305.2h0.6v0.6h-0.6zM33.9 307.7h0.6v0.6h-0.6zM36.1 302.8h0.6v0.6h-0.6zM34.9 306.6h0.6v0.6h-0.6zM33.0 297.9h0.6v0.6h-0.6zM36.4 302.2h0.6v0.6h-0.6zM35.0 302.9h0.6v0.6h-0.6zM35.2 307.0h0.6v0.6h-0.6zM36.0 305.0h0.6v0.6h-0.6zM35.5 303.7h0.6v0.6h-0.6zM38.7 300.3h0.6v0.6h-0.6zM35.5 303.3h0.6v0.6h-0.6zM34.6 304.4h0.6v0.6h-0.6zM35.9 303.9h0.6v0.6h-0.6zM37.2 303.1h0.6v0.6h-0.6zM31.7 301.0h0.6v0.6h-0.6zM39.2 304.6h0.6v0.6h-0.6zM36.3 303.0h0.6v0.6h-0.6zM36.0 305.7h0.6v0.6h-0.6zM38.2 308.2h0.6v0.6h-0.6zM38.0 295.0h0.6v0.6h-0.6zM36.2 306.0h0.6v0.6h-0.6zM36.3 304.2h0.6v0.6h-0.6zM36.6 305.7h0.6v0.6h-0.6zM35.8 304.3h0.6v0.6h-0.6zM36.0 304.1h0.6v0.6h-0.6zM31.1 312.5h0.6v0.6h-0.6zM36.3 303.9h0.6v0.6h-0.6zM39.5 305.5h0.6v0.6h-0.6zM38.4 304.8h0.6v0.6h-0.6zM36.3 303.7h0.6v0.6h-0.6zM34.7 306.3h0.6v0.6h-0.6zM36.0 304.0h0.6v0.6h-0.6zM38.7 303.8h0.6v0.6h-0.6zM40.0 297.6h0.6v0.6h-0.6zM35.8 304.1h0.6v0.6h-0.6zM35.7 304.8h0.6v0.6h-0.6zM37.6 304.8h0.6v0.6h-0.6zM36.2 304.2h0.6v0.6h-0.6zM37.4 299.0h0.6v0.6h-0.6zM36.6 302.5h0.6v0.6h-0.6zM34.2 302.3h0.6v0.6h-0.6zM31.6 305.9h0.6v0.6h-0.6zM39.0 304.3h0.6v0.6h-0.6zM36.7 302.9h0.6v0.6h-0.6zM36.0 304.0h0.6v0.6h-0.6zM30.4 303.2h0.6v0.6h-0.6zM34.4 306.8h0.6v0.6h-0.6zM37.2 304.2h0.6v0.6h-0.6zM34.2 303.9h0.6v0.6h-0.6zM28.9 306.1h0.6v0.6h-0.6zM38.0 309.3h0.6v0.6h-0.6zM48.9 303.6h0.6v0.6h-0.6zM36.9 303.3h0.6v0.6h-0.6zM34.8 304.3h0.6v0.6h-0.6zM34.9 305.8h0.6v0.6h-0.6zM33.9 297.4h0.6v0.6h-0.6zM37.6 299.6h0.6v0.6h-0.6zM34.8 307.3h0.6v0.6h-0.6zM36.2 302.4h0.6v0.6h-0.6zM34.3 307.3h0.6v0.6h-0.6zM36.3 307.0h0.6v0.6h-0.6zM36.2 310.0h0.6v0.6h-0.6zM39.5 304.7h0.6v0.6h-0.6zM34.5 296.5h0.6v0.6h-0.6zM37.5 302.4h0.6v0.6h-0.6zM34.1 308.7h0.6v0.6h-0.6zM39.2 305.6h0.6v0.6h-0.6zM30.8 306.2h0.6v0.6h-0.6zM37.7 304.8h0.6v0.6h-0.6zM30.8 305.7h0.6v0.6h-0.6zM38.8 300.3h0.6v0.6h-0.6zM35.5 302.2h0.6v0.6h-0.6zM34.6 303.7h0.6v0.6h-0.6zM33.0 311.0h0.6v0.6h-0.6zM36.2 304.1h0.6v0.6h-0.6zM37.8 303.0h0.6v0.6h-0.6zM40.8 309.4h0.6v0.6h-0.6zM27.6 300.8h0.6v0.6h-0.6zM36.5 304.2h0.6v0.6h-0.6zM35.4 303.0h0.6v0.6h-0.6zM37.4 302.1h0.6v0.6h-0.6zM32.3 303.5h0.6v0.6h-0.6zM37.5 305.9h0.6v0.6h-0.6zM35.4 296.8h0.6v0.6h-0.6zM41.9 305.2h0.6v0.6h-0.6zM32.2 303.3h0.6v0.6h-0.6zM34.9 300.6h0.6v0.6h-0.6zM29.5 299.1h0.6v0.6h-0.6zM35.7 304.2h0.6v0.6h-0.6zM37.7 299.6h0.6v0.6h-0.6zM34.3 297.7h0.6v0.6h-0.6zM28.6 306.0h0.6v0.6h-0.6zM26.9 300.9h0.6v0.6h-0.6zM41.8 301.7h0.6v0.6h-0.6zM35.5 301.4h0.6v0.6h-0.6zM36.9 306.1h0.6v0.6h-0.6zM36.1 303.8h0.6v0.6h-0.6zM37.4 308.6h0.6v0.6h-0.6zM36.0 303.9h0.6v0.6h-0.6zM25.3 304.6h0.6v0.6h-0.6zM41.8 297.6h0.6v0.6h-0.6zM36.7 304.1h0.6v0.6h-0.6zM33.1 303.8h0.6v0.6h-0.6zM42.7 303.0h0.6v0.6h-0.6zM33.7 302.0h0.6v0.6h-0.6zM40.2 298.2h0.6v0.6h-0.6zM35.6 303.2h0.6v0.6h-0.6zM37.4 304.0h0.6v0.6h-0.6zM36.5 308.7h0.6v0.6h-0.6zM35.8 311.0h0.6v0.6h-0.6zM51.7 308.0h0.6v0.6h-0.6zM36.5 307.9h0.6v0.6h-0.6zM32.4 311.8h0.6v0.6h-0.6zM33.5 311.6h0.6v0.6h-0.6zM33.7 301.9h0.6v0.6h-0.6zM38.3 303.1h0.6v0.6h-0.6zM39.6 304.3h0.6v0.6h-0.6zM36.9 296.9h0.6v0.6h-0.6zM29.1 300.9h0.6v0.6h-0.6zM33.1 300.3h0.6v0.6h-0.6zM38.1 304.7h0.6v0.6h-0.6zM37.1 305.5h0.6v0.6h-0.6zM34.5 308.0h0.6v0.6h-0.6zM35.9 304.0h0.6v0.6h-0.6zM35.8 304.5h0.6v0.6h-0.6zM32.4 297.3h0.6v0.6h-0.6z" fill="#000" opacity="0.33"/>
<path d="M31.2 281.6h.8v.8h-.8zM51.3 265.7h.8v.8h-.8zM49.0 264.1h.8v.8h-.8zM52.6 266.5h.8v.8h-.8zM34.4 277.4h.8v.8h-.8zM41.5 276.0h.8v.8h-.8zM29.3 289.2h.8v.8h-.8zM41.1 284.0h.8v.8h-.8zM38.3 281.0h.8v.8h-.8zM27.9 280.9h.8v.8h-.8zM36.6 282.2h.8v.8h-.8zM45.1 269.0h.8v.8h-.8zM49.9 271.5h.8v.8h-.8zM20.4 288.9h.8v.8h-.8zM43.0 273.9h.8v.8h-.8zM33.7 280.9h.8v.8h-.8zM46.9 277.8h.8v.8h-.8zM41.2 279.9h.8v.8h-.8zM48.2 267.0h.8v.8h-.8zM42.2 279.3h.8v.8h-.8zM34.1 287.0h.8v.8h-.8zM44.2 268.1h.8v.8h-.8zM35.1 280.1h.8v.8h-.8zM30.1 292.6h.8v.8h-.8zM49.4 273.2h.8v.8h-.8zM50.0 266.1h.8v.8h-.8zM42.4 278.9h.8v.8h-.8zM35.3 284.2h.8v.8h-.8zM39.2 275.0h.8v.8h-.8zM26.6 289.8h.8v.8h-.8zM45.5 267.7h.8v.8h-.8zM26.6 288.4h.8v.8h-.8zM28.7 288.1h.8v.8h-.8zM31.8 285.9h.8v.8h-.8zM44.5 277.5h.8v.8h-.8zM39.4 284.7h.8v.8h-.8zM29.8 284.0h.8v.8h-.8zM25.2 292.5h.8v.8h-.8zM44.1 268.9h.8v.8h-.8zM31.3 289.2h.8v.8h-.8zM32.7 283.3h.8v.8h-.8zM50.7 273.1h.8v.8h-.8zM29.0 287.3h.8v.8h-.8zM37.8 278.5h.8v.8h-.8zM39.9 281.1h.8v.8h-.8zM35.9 280.1h.8v.8h-.8zM35.8 279.6h.8v.8h-.8zM32.5 282.1h.8v.8h-.8zM35.8 284.8h.8v.8h-.8zM33.4 286.1h.8v.8h-.8zM39.9 279.0h.8v.8h-.8zM43.3 269.1h.8v.8h-.8zM44.4 271.7h.8v.8h-.8zM40.2 274.0h.8v.8h-.8zM38.4 269.0h.8v.8h-.8zM41.4 282.0h.8v.8h-.8zM47.2 274.7h.8v.8h-.8zM37.8 275.5h.8v.8h-.8zM28.6 286.3h.8v.8h-.8zM46.3 276.1h.8v.8h-.8zM39.5 279.1h.8v.8h-.8zM51.3 269.2h.8v.8h-.8zM42.2 273.7h.8v.8h-.8zM39.9 281.8h.8v.8h-.8zM40.7 279.5h.8v.8h-.8zM37.7 279.6h.8v.8h-.8zM49.2 275.2h.8v.8h-.8zM45.5 278.6h.8v.8h-.8zM22.3 288.6h.8v.8h-.8zM33.8 286.6h.8v.8h-.8zM44.0 276.9h.8v.8h-.8zM25.9 291.0h.8v.8h-.8zM50.4 267.1h.8v.8h-.8zM17.5 290.1h.8v.8h-.8zM46.8 278.4h.8v.8h-.8zM30.0 280.9h.8v.8h-.8zM29.9 285.5h.8v.8h-.8zM36.0 284.3h.8v.8h-.8zM33.2 285.5h.8v.8h-.8zM26.2 291.3h.8v.8h-.8zM29.6 285.9h.8v.8h-.8zM18.7 290.6h.8v.8h-.8zM30.0 288.7h.8v.8h-.8zM37.3 275.5h.8v.8h-.8zM43.4 275.4h.8v.8h-.8zM37.2 280.2h.8v.8h-.8zM37.9 284.4h.8v.8h-.8zM38.5 277.1h.8v.8h-.8zM23.2 292.0h.8v.8h-.8zM34.7 280.5h.8v.8h-.8zM32.9 277.6h.8v.8h-.8zM46.7 273.8h.8v.8h-.8zM31.0 284.3h.8v.8h-.8zM30.6 283.3h.8v.8h-.8zM27.6 278.6h.8v.8h-.8zM27.2 291.0h.8v.8h-.8zM50.9 271.5h.8v.8h-.8zM42.8 278.7h.8v.8h-.8zM28.1 284.2h.8v.8h-.8zM42.2 276.3h.8v.8h-.8zM42.5 278.9h.8v.8h-.8zM44.0 267.6h.8v.8h-.8zM32.0 288.0h.8v.8h-.8zM45.4 276.0h.8v.8h-.8zM32.9 281.3h.8v.8h-.8zM47.3 274.3h.8v.8h-.8zM37.2 287.2h.8v.8h-.8zM31.8 288.9h.8v.8h-.8zM44.7 277.0h.8v.8h-.8zM30.5 281.1h.8v.8h-.8zM39.6 274.3h.8v.8h-.8zM37.8 281.9h.8v.8h-.8zM42.1 275.8h.8v.8h-.8zM46.2 269.6h.8v.8h-.8zM41.7 275.3h.8v.8h-.8zM44.7 273.6h.8v.8h-.8zM45.7 274.8h.8v.8h-.8zM35.1 283.9h.8v.8h-.8zM45.5 271.9h.8v.8h-.8zM39.3 278.1h.8v.8h-.8zM31.6 284.8h.8v.8h-.8zM45.7 264.3h.8v.8h-.8zM40.9 275.7h.8v.8h-.8zM27.5 290.9h.8v.8h-.8zM46.2 273.6h.8v.8h-.8zM30.8 287.9h.8v.8h-.8zM26.5 280.0h.8v.8h-.8zM24.2 292.3h.8v.8h-.8zM32.8 288.7h.8v.8h-.8zM36.3 277.9h.8v.8h-.8zM50.3 267.5h.8v.8h-.8zM46.8 268.5h.8v.8h-.8zM38.1 281.6h.8v.8h-.8zM33.4 288.4h.8v.8h-.8zM27.3 292.0h.8v.8h-.8zM26.5 289.1h.8v.8h-.8zM37.5 282.4h.8v.8h-.8zM33.0 278.9h.8v.8h-.8zM34.3 277.0h.8v.8h-.8zM31.0 289.9h.8v.8h-.8zM28.3 283.6h.8v.8h-.8zM36.2 280.4h.8v.8h-.8zM43.0 275.8h.8v.8h-.8zM30.9 289.6h.8v.8h-.8zM36.7 277.5h.8v.8h-.8zM51.3 269.0h.8v.8h-.8zM45.7 266.8h.8v.8h-.8zM30.2 282.9h.8v.8h-.8zM18.2 287.6h.8v.8h-.8zM47.6 271.9h.8v.8h-.8zM20.3 290.8h.8v.8h-.8zM47.4 265.7h.8v.8h-.8zM53.8 267.9h.8v.8h-.8zM36.2 278.6h.8v.8h-.8zM43.7 269.9h.8v.8h-.8zM47.0 271.0h.8v.8h-.8zM30.2 287.5h.8v.8h-.8zM27.4 291.6h.8v.8h-.8zM37.7 282.2h.8v.8h-.8zM24.7 292.2h.8v.8h-.8zM28.7 287.2h.8v.8h-.8zM30.5 283.2h.8v.8h-.8zM42.2 276.8h.8v.8h-.8zM54.2 269.5h.8v.8h-.8zM32.2 280.6h.8v.8h-.8zM35.0 280.8h.8v.8h-.8zM29.3 284.2h.8v.8h-.8zM35.2 289.2h.8v.8h-.8zM23.7 291.6h.8v.8h-.8zM42.4 279.2h.8v.8h-.8zM50.8 271.3h.8v.8h-.8zM44.9 267.3h.8v.8h-.8zM45.4 270.1h.8v.8h-.8zM43.8 277.4h.8v.8h-.8zM28.2 292.4h.8v.8h-.8zM34.4 286.7h.8v.8h-.8zM40.6 274.8h.8v.8h-.8zM30.4 284.2h.8v.8h-.8zM31.6 290.5h.8v.8h-.8zM33.6 287.8h.8v.8h-.8zM46.6 272.2h.8v.8h-.8zM35.9 281.2h.8v.8h-.8zM36.3 280.5h.8v.8h-.8zM39.3 278.3h.8v.8h-.8zM43.2 270.3h.8v.8h-.8zM23.9 292.6h.8v.8h-.8zM29.7 289.6h.8v.8h-.8zM27.4 289.2h.8v.8h-.8zM46.7 274.9h.8v.8h-.8zM34.1 290.6h.8v.8h-.8zM40.0 278.7h.8v.8h-.8zM46.2 273.9h.8v.8h-.8zM26.3 291.5h.8v.8h-.8zM25.0 284.7h.8v.8h-.8zM36.2 272.0h.8v.8h-.8zM38.9 282.2h.8v.8h-.8zM42.8 271.3h.8v.8h-.8zM26.7 289.3h.8v.8h-.8zM22.8 283.1h.8v.8h-.8zM38.1 277.1h.8v.8h-.8zM36.5 279.1h.8v.8h-.8zM33.1 276.9h.8v.8h-.8zM34.3 280.0h.8v.8h-.8zM47.3 272.6h.8v.8h-.8zM28.3 283.0h.8v.8h-.8zM45.2 267.9h.8v.8h-.8zM48.1 271.9h.8v.8h-.8zM42.2 277.8h.8v.8h-.8zM29.1 286.3h.8v.8h-.8zM48.5 268.4h.8v.8h-.8zM42.2 276.0h.8v.8h-.8zM41.7 273.5h.8v.8h-.8zM35.6 283.7h.8v.8h-.8zM41.0 276.5h.8v.8h-.8zM40.6 277.6h.8v.8h-.8zM26.2 288.9h.8v.8h-.8zM58.7 266.5h.8v.8h-.8zM34.4 290.1h.8v.8h-.8zM44.3 276.7h.8v.8h-.8zM23.6 288.9h.8v.8h-.8zM31.6 292.8h.8v.8h-.8zM45.8 274.9h.8v.8h-.8zM44.5 272.8h.8v.8h-.8zM31.8 279.3h.8v.8h-.8zM40.4 283.5h.8v.8h-.8zM30.8 282.4h.8v.8h-.8zM30.9 291.2h.8v.8h-.8zM33.6 280.6h.8v.8h-.8zM33.9 279.6h.8v.8h-.8zM40.2 282.6h.8v.8h-.8zM36.3 282.4h.8v.8h-.8zM53.7 267.6h.8v.8h-.8zM48.4 272.3h.8v.8h-.8zM33.2 284.3h.8v.8h-.8zM46.0 271.8h.8v.8h-.8zM44.7 277.8h.8v.8h-.8zM36.2 278.1h.8v.8h-.8zM39.6 270.9h.8v.8h-.8zM39.7 278.1h.8v.8h-.8zM42.5 281.2h.8v.8h-.8zM47.1 270.3h.8v.8h-.8zM51.1 270.5h.8v.8h-.8zM31.4 288.0h.8v.8h-.8zM44.9 281.6h.8v.8h-.8zM47.4 273.6h.8v.8h-.8zM45.4 273.1h.8v.8h-.8zM38.4 281.5h.8v.8h-.8zM27.7 288.1h.8v.8h-.8zM41.9 271.6h.8v.8h-.8zM45.3 274.5h.8v.8h-.8zM41.6 274.1h.8v.8h-.8zM28.3 290.7h.8v.8h-.8zM42.8 267.6h.8v.8h-.8zM34.4 291.6h.8v.8h-.8zM33.6 281.6h.8v.8h-.8zM35.3 275.8h.8v.8h-.8zM39.1 286.0h.8v.8h-.8zM29.1 290.8h.8v.8h-.8zM25.0 291.5h.8v.8h-.8zM29.0 292.2h.8v.8h-.8zM38.1 277.0h.8v.8h-.8zM32.3 285.5h.8v.8h-.8zM46.3 276.9h.8v.8h-.8zM38.9 281.5h.8v.8h-.8zM42.2 278.2h.8v.8h-.8zM34.1 286.4h.8v.8h-.8zM30.0 278.8h.8v.8h-.8zM29.3 284.8h.8v.8h-.8zM47.8 266.6h.8v.8h-.8zM37.5 283.6h.8v.8h-.8zM41.2 273.9h.8v.8h-.8zM31.4 278.9h.8v.8h-.8zM43.3 270.2h.8v.8h-.8zM19.0 292.4h.8v.8h-.8zM50.9 273.2h.8v.8h-.8zM36.5 291.6h.8v.8h-.8zM31.2 289.3h.8v.8h-.8zM22.4 286.8h.8v.8h-.8zM27.8 290.3h.8v.8h-.8zM24.4 285.4h.8v.8h-.8zM32.3 281.8h.8v.8h-.8zM30.2 286.3h.8v.8h-.8zM31.1 277.9h.8v.8h-.8zM43.5 279.9h.8v.8h-.8zM36.9 278.9h.8v.8h-.8zM34.7 282.5h.8v.8h-.8zM28.1 290.2h.8v.8h-.8zM37.5 278.6h.8v.8h-.8zM22.9 288.3h.8v.8h-.8zM24.0 291.1h.8v.8h-.8zM38.4 277.7h.8v.8h-.8zM51.7 265.2h.8v.8h-.8zM46.0 269.2h.8v.8h-.8zM38.8 276.9h.8v.8h-.8zM33.4 274.1h.8v.8h-.8zM46.1 272.6h.8v.8h-.8zM47.9 274.4h.8v.8h-.8zM47.7 272.0h.8v.8h-.8zM29.6 287.3h.8v.8h-.8zM33.0 291.5h.8v.8h-.8zM33.2 278.6h.8v.8h-.8zM24.3 290.3h.8v.8h-.8zM37.3 282.6h.8v.8h-.8zM30.0 289.2h.8v.8h-.8zM37.8 277.0h.8v.8h-.8zM29.1 280.8h.8v.8h-.8zM40.9 271.0h.8v.8h-.8zM36.5 278.7h.8v.8h-.8zM49.6 269.1h.8v.8h-.8zM29.1 291.3h.8v.8h-.8zM39.1 284.8h.8v.8h-.8zM46.7 270.2h.8v.8h-.8zM26.8 289.4h.8v.8h-.8zM29.1 285.7h.8v.8h-.8zM29.0 278.7h.8v.8h-.8zM26.1 291.3h.8v.8h-.8zM36.2 282.5h.8v.8h-.8zM30.9 283.7h.8v.8h-.8zM48.3 272.1h.8v.8h-.8zM46.4 265.5h.8v.8h-.8zM39.1 271.5h.8v.8h-.8zM39.2 287.9h.8v.8h-.8zM33.1 288.9h.8v.8h-.8zM39.0 278.1h.8v.8h-.8zM39.1 276.9h.8v.8h-.8zM39.4 284.2h.8v.8h-.8zM30.0 285.0h.8v.8h-.8zM36.1 274.0h.8v.8h-.8zM42.7 271.6h.8v.8h-.8zM24.9 291.0h.8v.8h-.8zM37.9 276.8h.8v.8h-.8zM31.9 284.8h.8v.8h-.8zM40.8 271.2h.8v.8h-.8zM31.6 282.4h.8v.8h-.8zM41.4 264.9h.8v.8h-.8zM35.3 278.6h.8v.8h-.8zM38.8 285.4h.8v.8h-.8zM44.9 268.9h.8v.8h-.8zM40.9 280.2h.8v.8h-.8zM26.4 285.9h.8v.8h-.8zM38.8 283.7h.8v.8h-.8zM29.1 288.7h.8v.8h-.8zM44.5 274.5h.8v.8h-.8zM31.3 287.7h.8v.8h-.8zM36.4 277.9h.8v.8h-.8zM26.5 285.5h.8v.8h-.8zM46.4 269.8h.8v.8h-.8z" fill="#000" opacity="0.42"/>
<path d="M42.2 275.0h0.8v0.8h-0.8zM47.0 277.7h0.8v0.8h-0.8zM44.5 278.5h0.8v0.8h-0.8zM43.9 272.5h0.8v0.8h-0.8zM45.4 275.8h0.8v0.8h-0.8zM44.1 275.4h0.8v0.8h-0.8zM44.4 278.0h0.8v0.8h-0.8zM43.8 274.5h0.8v0.8h-0.8zM41.0 275.2h0.8v0.8h-0.8zM46.4 275.6h0.8v0.8h-0.8zM44.1 277.9h0.8v0.8h-0.8zM43.9 274.2h0.8v0.8h-0.8zM43.1 275.3h0.8v0.8h-0.8zM44.4 276.4h0.8v0.8h-0.8zM43.3 279.5h0.8v0.8h-0.8zM45.2 279.5h0.8v0.8h-0.8zM43.2 276.7h0.8v0.8h-0.8zM46.5 278.3h0.8v0.8h-0.8zM44.8 277.4h0.8v0.8h-0.8zM43.8 276.3h0.8v0.8h-0.8zM45.5 282.3h0.8v0.8h-0.8zM46.5 272.4h0.8v0.8h-0.8zM43.3 277.9h0.8v0.8h-0.8zM46.8 276.4h0.8v0.8h-0.8zM45.3 275.3h0.8v0.8h-0.8zM45.5 282.6h0.8v0.8h-0.8zM46.1 279.7h0.8v0.8h-0.8zM43.0 277.6h0.8v0.8h-0.8zM45.2 274.8h0.8v0.8h-0.8zM44.3 276.9h0.8v0.8h-0.8zM46.4 276.3h0.8v0.8h-0.8zM45.5 278.6h0.8v0.8h-0.8zM48.4 273.3h0.8v0.8h-0.8zM44.9 282.6h0.8v0.8h-0.8zM44.2 276.1h0.8v0.8h-0.8zM45.4 266.5h0.8v0.8h-0.8zM42.4 281.1h0.8v0.8h-0.8zM44.6 282.0h0.8v0.8h-0.8zM43.5 278.6h0.8v0.8h-0.8zM43.6 272.7h0.8v0.8h-0.8zM44.8 280.1h0.8v0.8h-0.8zM44.9 277.4h0.8v0.8h-0.8zM44.6 276.5h0.8v0.8h-0.8zM44.7 270.6h0.8v0.8h-0.8zM43.3 274.9h0.8v0.8h-0.8zM45.3 275.0h0.8v0.8h-0.8zM44.4 277.2h0.8v0.8h-0.8zM45.9 274.0h0.8v0.8h-0.8zM44.7 278.0h0.8v0.8h-0.8zM47.3 282.1h0.8v0.8h-0.8zM44.3 276.2h0.8v0.8h-0.8zM43.9 279.8h0.8v0.8h-0.8zM44.4 278.4h0.8v0.8h-0.8zM43.6 271.4h0.8v0.8h-0.8zM43.8 276.9h0.8v0.8h-0.8zM44.6 277.1h0.8v0.8h-0.8zM47.5 273.9h0.8v0.8h-0.8zM44.5 277.9h0.8v0.8h-0.8zM42.5 276.2h0.8v0.8h-0.8zM42.2 279.1h0.8v0.8h-0.8zM44.9 276.3h0.8v0.8h-0.8zM44.3 275.9h0.8v0.8h-0.8zM44.5 274.6h0.8v0.8h-0.8zM44.3 276.1h0.8v0.8h-0.8zM44.8 280.4h0.8v0.8h-0.8zM44.2 275.4h0.8v0.8h-0.8zM44.3 272.5h0.8v0.8h-0.8zM41.0 278.1h0.8v0.8h-0.8zM44.9 274.3h0.8v0.8h-0.8zM45.1 277.7h0.8v0.8h-0.8zM44.7 277.1h0.8v0.8h-0.8zM44.6 276.8h0.8v0.8h-0.8zM46.4 280.3h0.8v0.8h-0.8zM44.5 278.1h0.8v0.8h-0.8zM44.1 277.7h0.8v0.8h-0.8zM43.8 280.2h0.8v0.8h-0.8zM45.9 278.4h0.8v0.8h-0.8zM44.9 276.0h0.8v0.8h-0.8zM44.5 276.9h0.8v0.8h-0.8zM43.6 278.2h0.8v0.8h-0.8zM50.0 279.6h0.8v0.8h-0.8zM45.8 271.6h0.8v0.8h-0.8zM41.5 277.5h0.8v0.8h-0.8zM43.9 277.1h0.8v0.8h-0.8zM44.0 278.2h0.8v0.8h-0.8zM43.5 283.7h0.8v0.8h-0.8zM43.9 278.1h0.8v0.8h-0.8zM46.8 275.3h0.8v0.8h-0.8zM44.5 277.0h0.8v0.8h-0.8zM45.5 279.0h0.8v0.8h-0.8zM42.8 279.2h0.8v0.8h-0.8zM41.4 276.7h0.8v0.8h-0.8zM44.0 277.3h0.8v0.8h-0.8zM44.6 274.4h0.8v0.8h-0.8zM43.4 274.7h0.8v0.8h-0.8zM42.4 280.1h0.8v0.8h-0.8zM46.1 277.1h0.8v0.8h-0.8zM43.1 277.6h0.8v0.8h-0.8zM43.4 277.6h0.8v0.8h-0.8zM45.9 280.1h0.8v0.8h-0.8zM46.3 278.7h0.8v0.8h-0.8zM44.4 277.9h0.8v0.8h-0.8zM41.6 282.9h0.8v0.8h-0.8zM45.1 275.4h0.8v0.8h-0.8zM42.1 280.2h0.8v0.8h-0.8zM45.7 273.8h0.8v0.8h-0.8zM45.6 281.2h0.8v0.8h-0.8zM44.4 273.1h0.8v0.8h-0.8zM48.3 280.1h0.8v0.8h-0.8zM44.4 278.5h0.8v0.8h-0.8zM44.3 274.4h0.8v0.8h-0.8zM44.5 276.6h0.8v0.8h-0.8zM45.7 274.9h0.8v0.8h-0.8zM44.6 277.6h0.8v0.8h-0.8zM46.1 269.5h0.8v0.8h-0.8zM44.5 274.0h0.8v0.8h-0.8zM42.9 273.0h0.8v0.8h-0.8zM45.6 270.1h0.8v0.8h-0.8z" fill="#000" opacity="0.5"/>
<g filter="url(#b1)" fill="#222" opacity="0.75"><ellipse cx="43.4" cy="274.3" rx="1" ry="0.9"/><ellipse cx="44.6" cy="281" rx="0.9" ry="1.1"/><ellipse cx="42" cy="286" rx="0.8" ry="0.8"/><ellipse cx="45.3" cy="270" rx="0.7" ry="0.8"/></g>
<path d="M69.3 319.1h0.6v0.6h-0.6zM56.0 318.7h0.6v0.6h-0.6zM53.7 318.8h0.6v0.6h-0.6zM40.7 319.0h0.6v0.6h-0.6zM48.1 318.5h0.6v0.6h-0.6zM65.1 318.9h0.6v0.6h-0.6zM65.5 318.8h0.6v0.6h-0.6zM49.7 318.6h0.6v0.6h-0.6zM68.6 319.0h0.6v0.6h-0.6zM19.2 318.7h0.6v0.6h-0.6zM66.1 318.9h0.6v0.6h-0.6zM22.7 318.9h0.6v0.6h-0.6zM44.2 318.2h0.6v0.6h-0.6zM45.8 318.8h0.6v0.6h-0.6zM50.0 318.7h0.6v0.6h-0.6zM53.3 318.7h0.6v0.6h-0.6zM54.1 318.9h0.6v0.6h-0.6zM49.2 318.7h0.6v0.6h-0.6zM51.5 319.1h0.6v0.6h-0.6zM46.6 318.7h0.6v0.6h-0.6zM52.4 318.8h0.6v0.6h-0.6zM44.5 318.8h0.6v0.6h-0.6zM42.1 318.7h0.6v0.6h-0.6zM41.5 318.7h0.6v0.6h-0.6zM36.8 318.8h0.6v0.6h-0.6zM52.4 319.2h0.6v0.6h-0.6zM39.2 318.7h0.6v0.6h-0.6zM41.7 318.7h0.6v0.6h-0.6zM51.5 318.8h0.6v0.6h-0.6zM41.3 318.9h0.6v0.6h-0.6zM55.8 318.8h0.6v0.6h-0.6zM64.9 318.6h0.6v0.6h-0.6zM41.0 318.7h0.6v0.6h-0.6zM26.3 318.9h0.6v0.6h-0.6zM50.9 318.9h0.6v0.6h-0.6zM45.6 318.9h0.6v0.6h-0.6zM42.8 318.8h0.6v0.6h-0.6z" fill="#000" opacity="0.4"/>
<path d="M15.9 293.4h0.6v0.6h-0.6zM15.8 289.5h0.6v0.6h-0.6zM15.6 282.0h0.6v0.6h-0.6zM15.9 299.6h0.6v0.6h-0.6zM15.6 283.3h0.6v0.6h-0.6zM15.7 291.6h0.6v0.6h-0.6zM15.6 303.8h0.6v0.6h-0.6zM16.3 300.1h0.6v0.6h-0.6zM15.8 291.0h0.6v0.6h-0.6zM15.7 292.8h0.6v0.6h-0.6zM15.6 294.0h0.6v0.6h-0.6zM15.8 294.4h0.6v0.6h-0.6zM15.9 293.1h0.6v0.6h-0.6zM16.1 295.7h0.6v0.6h-0.6zM15.7 290.2h0.6v0.6h-0.6zM15.8 291.6h0.6v0.6h-0.6zM15.5 272.1h0.6v0.6h-0.6zM15.8 290.0h0.6v0.6h-0.6zM15.8 288.9h0.6v0.6h-0.6zM15.9 278.5h0.6v0.6h-0.6zM15.8 287.6h0.6v0.6h-0.6zM15.8 289.6h0.6v0.6h-0.6zM15.7 293.9h0.6v0.6h-0.6zM15.9 295.5h0.6v0.6h-0.6z" fill="#000" opacity="0.4"/>
<rect x="36.4" y="264" width="15.35" height="26.75" fill="none" stroke="#999" stroke-width="0.8" opacity="1"/>
<text x="53" y="276.6" font-size="9" text-anchor="start" font-weight="normal" style="stroke-width:0.45px">2.3</text>
<path d="M5.8 218.6 V327.5 H36.2" fill="none" stroke="#000" stroke-width="1.4"/>
<path d="M1.7999999999999998 222.6 L5.8 218.0 L9.8 222.6" fill="none" stroke="#000" stroke-width="1.4"/>
<path d="M30.200000000000003 323.7 L36.800000000000004 327.5 L30.200000000000003 331.3" fill="none" stroke="#000" stroke-width="1.4"/>
<text transform="translate(7.9 199.8) rotate(-90)" font-size="8.5" text-anchor="middle" font-weight="bold">CD57</text>
<text x="41.4" y="330.5" font-size="8.5" text-anchor="start" font-weight="normal" style="stroke-width:0.6px">CXCR5</text>
<line x1="118.1" y1="25.099999999999998" x2="118.1" y2="149.1" stroke="#000" stroke-width="1.7" stroke-linecap="butt"/>
<line x1="117.25" y1="148.25" x2="199.7" y2="148.25" stroke="#000" stroke-width="1.7" stroke-linecap="butt"/>
<line x1="113.89999999999999" y1="148.25" x2="118.1" y2="148.25" stroke="#000" stroke-width="1.4" stroke-linecap="butt"/>
<text x="113.49999999999999" y="151.85" font-size="8" text-anchor="end" font-weight="normal" >0</text>
<line x1="113.89999999999999" y1="123.78" x2="118.1" y2="123.78" stroke="#000" stroke-width="1.4" stroke-linecap="butt"/>
<text x="113.49999999999999" y="127.38" font-size="8" text-anchor="end" font-weight="normal" >5</text>
<line x1="113.89999999999999" y1="99.31" x2="118.1" y2="99.31" stroke="#000" stroke-width="1.4" stroke-linecap="butt"/>
<text x="113.49999999999999" y="102.91" font-size="8" text-anchor="end" font-weight="normal" >10</text>
<line x1="113.89999999999999" y1="74.84" x2="118.1" y2="74.84" stroke="#000" stroke-width="1.4" stroke-linecap="butt"/>
<text x="113.49999999999999" y="78.44" font-size="8" text-anchor="end" font-weight="normal" >15</text>
<line x1="113.89999999999999" y1="50.370000000000005" x2="118.1" y2="50.370000000000005" stroke="#000" stroke-width="1.4" stroke-linecap="butt"/>
<text x="113.49999999999999" y="53.970000000000006" font-size="8" text-anchor="end" font-weight="normal" >20</text>
<line x1="113.89999999999999" y1="25.89999999999999" x2="118.1" y2="25.89999999999999" stroke="#000" stroke-width="1.4" stroke-linecap="butt"/>
<text x="113.49999999999999" y="29.499999999999993" font-size="8" text-anchor="end" font-weight="normal" >25</text>
<line x1="138.4" y1="148.25" x2="138.4" y2="152.85" stroke="#000" stroke-width="1.4" stroke-linecap="butt"/>
<text x="138.6" y="163.15" font-size="8.9" text-anchor="middle" font-weight="normal" >no RTX</text>
<line x1="179.3" y1="148.25" x2="179.3" y2="152.85" stroke="#000" stroke-width="1.4" stroke-linecap="butt"/>
<text x="182" y="163.15" font-size="8.9" text-anchor="middle" font-weight="normal" >RTX</text>
<text transform="translate(97 130) rotate(-90)" font-size="8.8" text-anchor="start" textLength="83.7" lengthAdjust="spacingAndGlyphs" style="stroke-width:0.5px">%IL-7R<tspan font-size="6.3" dy="-2.7">lo</tspan><tspan dy="2.7" font-size="0.1">&#8203;</tspan>FoxP3<tspan font-size="6.3" dy="-2.7">+</tspan><tspan dy="2.7" font-size="0.1">&#8203;</tspan>(CD4<tspan font-size="6.3" dy="-2.7">+</tspan><tspan dy="2.7" font-size="0.1">&#8203;</tspan>)</text>
<path d="M138.1 28.4 V24.4 H181 V28.4" fill="none" stroke="#000" stroke-width="1.4"/>
<text x="161.2" y="20.3" font-size="7.7" text-anchor="middle" font-weight="normal" >p=0.75</text>
<circle cx="138.5" cy="34.4" r="3.2" fill="#000" stroke="#fff" stroke-width="0.4"/>
<circle cx="134" cy="67" r="3.2" fill="#000" stroke="#fff" stroke-width="0.4"/>
<circle cx="143.1" cy="67.9" r="3.2" fill="#000" stroke="#fff" stroke-width="0.4"/>
<circle cx="143.1" cy="72.25" r="3.2" fill="#000" stroke="#fff" stroke-width="0.4"/>
<circle cx="134" cy="78.5" r="3.2" fill="#000" stroke="#fff" stroke-width="0.4"/>
<circle cx="143.1" cy="79.1" r="3.2" fill="#000" stroke="#fff" stroke-width="0.4"/>
<circle cx="134" cy="86" r="3.2" fill="#000" stroke="#fff" stroke-width="0.4"/>
<circle cx="143.1" cy="85.4" r="3.2" fill="#000" stroke="#fff" stroke-width="0.4"/>
<circle cx="129.4" cy="89.75" r="3.2" fill="#000" stroke="#fff" stroke-width="0.4"/>
<circle cx="128.9" cy="92.6" r="3.2" fill="#000" stroke="#fff" stroke-width="0.4"/>
<circle cx="138.5" cy="89.75" r="3.2" fill="#000" stroke="#fff" stroke-width="0.4"/>
<circle cx="147.5" cy="89.75" r="3.2" fill="#000" stroke="#fff" stroke-width="0.4"/>
<circle cx="147.5" cy="97.6" r="3.2" fill="#000" stroke="#fff" stroke-width="0.4"/>
<circle cx="138.5" cy="101.4" r="3.2" fill="#000" stroke="#fff" stroke-width="0.4"/>
<circle cx="134" cy="107.9" r="3.2" fill="#000" stroke="#fff" stroke-width="0.4"/>
<circle cx="143.1" cy="112.6" r="3.2" fill="#000" stroke="#fff" stroke-width="0.4"/>
<circle cx="134" cy="121.4" r="3.2" fill="#000" stroke="#fff" stroke-width="0.4"/>
<circle cx="134" cy="124.5" r="3.2" fill="#000" stroke="#fff" stroke-width="0.4"/>
<circle cx="143.1" cy="120.5" r="3.2" fill="#000" stroke="#fff" stroke-width="0.4"/>
<circle cx="143.1" cy="123.5" r="3.2" fill="#000" stroke="#fff" stroke-width="0.4"/>
<line x1="125" y1="91.25" x2="151.9" y2="91.25" stroke="#000" stroke-width="1.7" stroke-linecap="butt"/>
<circle cx="170" cy="71.9" r="3.0" fill="#fff" stroke="#000" stroke-width="1.55"/>
<circle cx="179.4" cy="75.4" r="3.0" fill="#fff" stroke="#000" stroke-width="1.55"/>
<circle cx="188.75" cy="67.1" r="3.0" fill="#fff" stroke="#000" stroke-width="1.55"/>
<circle cx="174.5" cy="128" r="3.0" fill="#fff" stroke="#000" stroke-width="1.55"/>
<circle cx="184.3" cy="121.3" r="3.0" fill="#fff" stroke="#000" stroke-width="1.55"/>
<line x1="166.25" y1="92.9" x2="192.5" y2="92.9" stroke="#000" stroke-width="1.7" stroke-linecap="butt"/>
<line x1="249" y1="23.45" x2="249" y2="147.1" stroke="#000" stroke-width="1.7" stroke-linecap="butt"/>
<line x1="248.15" y1="146.25" x2="330" y2="146.25" stroke="#000" stroke-width="1.7" stroke-linecap="butt"/>
<line x1="244.8" y1="146.4" x2="249" y2="146.4" stroke="#000" stroke-width="1.4" stroke-linecap="butt"/>
<text x="244.4" y="150.6" font-size="8.1" text-anchor="end" font-weight="normal" >0</text>
<line x1="244.8" y1="122.07000000000001" x2="249" y2="122.07000000000001" stroke="#000" stroke-width="1.4" stroke-linecap="butt"/>
<text x="244.4" y="126.27000000000001" font-size="8.1" text-anchor="end" font-weight="normal" >1x10<tspan font-size="6.8" dy="-2.1">06</tspan><tspan dy="2.1" font-size="0.1">&#8203;</tspan></text>
<line x1="244.8" y1="97.74000000000001" x2="249" y2="97.74000000000001" stroke="#000" stroke-width="1.4" stroke-linecap="butt"/>
<text x="244.4" y="101.94000000000001" font-size="8.1" text-anchor="end" font-weight="normal" >2x10<tspan font-size="6.8" dy="-2.1">06</tspan><tspan dy="2.1" font-size="0.1">&#8203;</tspan></text>
<line x1="244.8" y1="73.41000000000001" x2="249" y2="73.41000000000001" stroke="#000" stroke-width="1.4" stroke-linecap="butt"/>
<text x="244.4" y="77.61000000000001" font-size="8.1" text-anchor="end" font-weight="normal" >3x10<tspan font-size="6.8" dy="-2.1">06</tspan><tspan dy="2.1" font-size="0.1">&#8203;</tspan></text>
<line x1="244.8" y1="49.08000000000001" x2="249" y2="49.08000000000001" stroke="#000" stroke-width="1.4" stroke-linecap="butt"/>
<text x="244.4" y="53.280000000000015" font-size="8.1" text-anchor="end" font-weight="normal" >4x10<tspan font-size="6.8" dy="-2.1">06</tspan><tspan dy="2.1" font-size="0.1">&#8203;</tspan></text>
<line x1="244.8" y1="24.750000000000014" x2="249" y2="24.750000000000014" stroke="#000" stroke-width="1.4" stroke-linecap="butt"/>
<text x="244.4" y="28.950000000000014" font-size="8.1" text-anchor="end" font-weight="normal" >5x10<tspan font-size="6.8" dy="-2.1">06</tspan><tspan dy="2.1" font-size="0.1">&#8203;</tspan></text>
<line x1="268.8" y1="146.25" x2="268.8" y2="150.85" stroke="#000" stroke-width="1.4" stroke-linecap="butt"/>
<text x="265.6" y="161.15" font-size="8.9" text-anchor="middle" font-weight="normal" >no RTX</text>
<line x1="309" y1="146.25" x2="309" y2="150.85" stroke="#000" stroke-width="1.4" stroke-linecap="butt"/>
<text x="308.8" y="161.15" font-size="8.9" text-anchor="middle" font-weight="normal" >RTX</text>
<text transform="translate(214.6 123.75) rotate(-90)" font-size="8.8" text-anchor="start" textLength="73.2" lengthAdjust="spacingAndGlyphs" style="stroke-width:0.5px">#IL-7R<tspan font-size="6.3" dy="-2.7">lo</tspan><tspan dy="2.7" font-size="0.1">&#8203;</tspan>FoxP3<tspan font-size="6.3" dy="-2.7">+</tspan><tspan dy="2.7" font-size="0.1">&#8203;</tspan>&#160;<tspan dx="1.6">CD4</tspan><tspan font-size="6.3" dy="-2.7">+</tspan><tspan dy="2.7" font-size="0.1">&#8203;</tspan></text>
<path d="M268.3 28.6 V24.4 H311.8 V28.6" fill="none" stroke="#000" stroke-width="1.4"/>
<text x="291.3" y="20.3" font-size="7.7" text-anchor="middle" font-weight="normal" >p=0.43</text>
<circle cx="268.75" cy="35.4" r="3.2" fill="#000" stroke="#fff" stroke-width="0.4"/>
<circle cx="273.5" cy="42" r="3.2" fill="#000" stroke="#fff" stroke-width="0.4"/>
<circle cx="264.4" cy="48.9" r="3.2" fill="#000" stroke="#fff" stroke-width="0.4"/>
<circle cx="268.75" cy="61" r="3.2" fill="#000" stroke="#fff" stroke-width="0.4"/>
<circle cx="268.75" cy="78.25" r="3.2" fill="#000" stroke="#fff" stroke-width="0.4"/>
<circle cx="268.75" cy="94.5" r="3.2" fill="#000" stroke="#fff" stroke-width="0.4"/>
<circle cx="264.4" cy="99.1" r="3.2" fill="#000" stroke="#fff" stroke-width="0.4"/>
<circle cx="273.5" cy="100.4" r="3.2" fill="#000" stroke="#fff" stroke-width="0.4"/>
<circle cx="259.75" cy="102.25" r="3.2" fill="#000" stroke="#fff" stroke-width="0.4"/>
<circle cx="278.1" cy="104.75" r="3.2" fill="#000" stroke="#fff" stroke-width="0.4"/>
<circle cx="268.75" cy="106" r="3.2" fill="#000" stroke="#fff" stroke-width="0.4"/>
<circle cx="264.4" cy="122.5" r="3.2" fill="#000" stroke="#fff" stroke-width="0.4"/>
<circle cx="264.4" cy="126" r="3.2" fill="#000" stroke="#fff" stroke-width="0.4"/>
<circle cx="264.4" cy="133.75" r="3.2" fill="#000" stroke="#fff" stroke-width="0.4"/>
<circle cx="273.5" cy="124.75" r="3.2" fill="#000" stroke="#fff" stroke-width="0.4"/>
<circle cx="273.5" cy="128.5" r="3.2" fill="#000" stroke="#fff" stroke-width="0.4"/>
<circle cx="273.5" cy="132" r="3.2" fill="#000" stroke="#fff" stroke-width="0.4"/>
<circle cx="273.5" cy="134.5" r="3.2" fill="#000" stroke="#fff" stroke-width="0.4"/>
<circle cx="259.75" cy="138.75" r="3.2" fill="#000" stroke="#fff" stroke-width="0.4"/>
<circle cx="278.1" cy="139.1" r="3.2" fill="#000" stroke="#fff" stroke-width="0.4"/>
<circle cx="268.75" cy="141.6" r="3.2" fill="#000" stroke="#fff" stroke-width="0.4"/>
<line x1="255.8" y1="103" x2="282.5" y2="103" stroke="#000" stroke-width="1.7" stroke-linecap="butt"/>
<circle cx="309" cy="102.6" r="3.0" fill="#fff" stroke="#000" stroke-width="1.55"/>
<circle cx="304.4" cy="111.6" r="3.0" fill="#fff" stroke="#000" stroke-width="1.55"/>
<circle cx="313.4" cy="114.5" r="3.0" fill="#fff" stroke="#000" stroke-width="1.55"/>
<circle cx="313.4" cy="126.6" r="3.0" fill="#fff" stroke="#000" stroke-width="1.55"/>
<circle cx="304.4" cy="134.75" r="3.0" fill="#fff" stroke="#000" stroke-width="1.55"/>
<line x1="296.3" y1="118" x2="323" y2="118" stroke="#000" stroke-width="1.7" stroke-linecap="butt"/>
<line x1="119" y1="200.45" x2="119" y2="324.85" stroke="#000" stroke-width="1.7" stroke-linecap="butt"/>
<line x1="118.15" y1="324.0" x2="201" y2="324.0" stroke="#000" stroke-width="1.7" stroke-linecap="butt"/>
<line x1="114.8" y1="324.0" x2="119" y2="324.0" stroke="#000" stroke-width="1.4" stroke-linecap="butt"/>
<text x="114.39999999999999" y="327.6" font-size="8" text-anchor="end" font-weight="normal" >0</text>
<line x1="114.8" y1="293.31" x2="119" y2="293.31" stroke="#000" stroke-width="1.4" stroke-linecap="butt"/>
<text x="114.39999999999999" y="296.91" font-size="8" text-anchor="end" font-weight="normal" >1</text>
<line x1="114.8" y1="262.62" x2="119" y2="262.62" stroke="#000" stroke-width="1.4" stroke-linecap="butt"/>
<text x="114.39999999999999" y="266.22" font-size="8" text-anchor="end" font-weight="normal" >2</text>
<line x1="114.8" y1="231.93" x2="119" y2="231.93" stroke="#000" stroke-width="1.4" stroke-linecap="butt"/>
<text x="114.39999999999999" y="235.53" font-size="8" text-anchor="end" font-weight="normal" >3</text>
<line x1="114.8" y1="201.24" x2="119" y2="201.24" stroke="#000" stroke-width="1.4" stroke-linecap="butt"/>
<text x="114.39999999999999" y="204.84" font-size="8" text-anchor="end" font-weight="normal" >4</text>
<line x1="139.6" y1="324.0" x2="139.6" y2="328.6" stroke="#000" stroke-width="1.4" stroke-linecap="butt"/>
<text x="139.4" y="338.3" font-size="8.9" text-anchor="middle" font-weight="normal" >No RTX</text>
<line x1="180.5" y1="324.0" x2="180.5" y2="328.6" stroke="#000" stroke-width="1.4" stroke-linecap="butt"/>
<text x="180.9" y="338.3" font-size="8.9" text-anchor="middle" font-weight="normal" >RTX</text>
<text transform="translate(101.5 334.4) rotate(-90)" font-size="8.8" text-anchor="start" textLength="141.9" lengthAdjust="spacingAndGlyphs" style="stroke-width:0.5px">%CXCR5<tspan font-size="6.3" dy="-2.7">+</tspan><tspan dy="2.7" font-size="0.1">&#8203;</tspan>CD57<tspan font-size="6.3" dy="-2.7">+</tspan><tspan dy="2.7" font-size="0.1">&#8203;</tspan> (IL-7R<tspan font-size="6.3" dy="-2.7">lo</tspan><tspan dy="2.7" font-size="0.1">&#8203;</tspan>FoxP3<tspan font-size="6.3" dy="-2.7">+</tspan><tspan dy="2.7" font-size="0.1">&#8203;</tspan>CD4<tspan font-size="6.3" dy="-2.7">+</tspan><tspan dy="2.7" font-size="0.1">&#8203;</tspan>)</text>
<path d="M138.5 204.4 V200.6 H181.8 V204.4" fill="none" stroke="#000" stroke-width="1.4"/>
<text x="161.3" y="195.2" font-size="7.7" text-anchor="middle" font-weight="normal" >p=0.16</text>
<circle cx="130.3" cy="220.6" r="3.2" fill="#000" stroke="#fff" stroke-width="0.4"/>
<circle cx="148.1" cy="220.8" r="3.2" fill="#000" stroke="#fff" stroke-width="0.4"/>
<circle cx="139.6" cy="228" r="3.2" fill="#000" stroke="#fff" stroke-width="0.4"/>
<circle cx="139.6" cy="239.3" r="3.2" fill="#000" stroke="#fff" stroke-width="0.4"/>
<circle cx="139.6" cy="258.4" r="3.2" fill="#000" stroke="#fff" stroke-width="0.4"/>
<circle cx="139.6" cy="271.9" r="3.2" fill="#000" stroke="#fff" stroke-width="0.4"/>
<circle cx="135" cy="288.5" r="3.2" fill="#000" stroke="#fff" stroke-width="0.4"/>
<circle cx="144.4" cy="287" r="3.2" fill="#000" stroke="#fff" stroke-width="0.4"/>
<circle cx="135" cy="292" r="3.2" fill="#000" stroke="#fff" stroke-width="0.4"/>
<circle cx="144.4" cy="291" r="3.2" fill="#000" stroke="#fff" stroke-width="0.4"/>
<circle cx="139.6" cy="293.5" r="3.2" fill="#000" stroke="#fff" stroke-width="0.4"/>
<circle cx="135" cy="296" r="3.2" fill="#000" stroke="#fff" stroke-width="0.4"/>
<circle cx="145" cy="295.4" r="3.2" fill="#000" stroke="#fff" stroke-width="0.4"/>
<circle cx="130.25" cy="300" r="3.2" fill="#000" stroke="#fff" stroke-width="0.4"/>
<circle cx="149" cy="298.5" r="3.2" fill="#000" stroke="#fff" stroke-width="0.4"/>
<circle cx="139.6" cy="302.5" r="3.2" fill="#000" stroke="#fff" stroke-width="0.4"/>
<circle cx="130.25" cy="308.75" r="3.2" fill="#000" stroke="#fff" stroke-width="0.4"/>
<circle cx="149" cy="312.25" r="3.2" fill="#000" stroke="#fff" stroke-width="0.4"/>
<circle cx="139.6" cy="313.75" r="3.2" fill="#000" stroke="#fff" stroke-width="0.4"/>
<line x1="125.8" y1="280.8" x2="153.3" y2="280.8" stroke="#000" stroke-width="1.7" stroke-linecap="butt"/>
<circle cx="180.6" cy="263.1" r="3.0" fill="#fff" stroke="#000" stroke-width="1.55"/>
<circle cx="180.6" cy="281.25" r="3.0" fill="#fff" stroke="#000" stroke-width="1.55"/>
<circle cx="171.25" cy="285.6" r="3.0" fill="#fff" stroke="#000" stroke-width="1.55"/>
<circle cx="176" cy="286" r="3.0" fill="#fff" stroke="#000" stroke-width="1.55"/>
<circle cx="185.6" cy="285.6" r="3.0" fill="#fff" stroke="#000" stroke-width="1.55"/>
<line x1="167" y1="280.5" x2="194.5" y2="280.5" stroke="#000" stroke-width="1.7" stroke-linecap="butt"/>
<line x1="256.9" y1="197.95" x2="256.9" y2="325.55" stroke="#000" stroke-width="1.7" stroke-linecap="butt"/>
<line x1="256.04999999999995" y1="324.7" x2="340.5" y2="324.7" stroke="#000" stroke-width="1.7" stroke-linecap="butt"/>
<line x1="252.7" y1="324.7" x2="256.9" y2="324.7" stroke="#000" stroke-width="1.4" stroke-linecap="butt"/>
<text x="252.29999999999998" y="328.9" font-size="8.1" text-anchor="end" font-weight="normal" >0</text>
<line x1="252.7" y1="293.21999999999997" x2="256.9" y2="293.21999999999997" stroke="#000" stroke-width="1.4" stroke-linecap="butt"/>
<text x="252.29999999999998" y="297.41999999999996" font-size="8.1" text-anchor="end" font-weight="normal" >2x10<tspan font-size="6.8" dy="-2.6">04</tspan><tspan dy="2.6" font-size="0.1">&#8203;</tspan></text>
<line x1="252.7" y1="261.74" x2="256.9" y2="261.74" stroke="#000" stroke-width="1.4" stroke-linecap="butt"/>
<text x="252.29999999999998" y="265.94" font-size="8.1" text-anchor="end" font-weight="normal" >4x10<tspan font-size="6.8" dy="-2.6">04</tspan><tspan dy="2.6" font-size="0.1">&#8203;</tspan></text>
<line x1="252.7" y1="230.26" x2="256.9" y2="230.26" stroke="#000" stroke-width="1.4" stroke-linecap="butt"/>
<text x="252.29999999999998" y="234.45999999999998" font-size="8.1" text-anchor="end" font-weight="normal" >6x10<tspan font-size="6.8" dy="-2.6">04</tspan><tspan dy="2.6" font-size="0.1">&#8203;</tspan></text>
<line x1="252.7" y1="198.77999999999997" x2="256.9" y2="198.77999999999997" stroke="#000" stroke-width="1.4" stroke-linecap="butt"/>
<text x="252.29999999999998" y="202.97999999999996" font-size="8.1" text-anchor="end" font-weight="normal" >8x10<tspan font-size="6.8" dy="-2.6">04</tspan><tspan dy="2.6" font-size="0.1">&#8203;</tspan></text>
<line x1="277.3" y1="324.7" x2="277.3" y2="329.3" stroke="#000" stroke-width="1.4" stroke-linecap="butt"/>
<text x="276.3" y="338.2" font-size="8.9" text-anchor="middle" font-weight="normal" >no RTX</text>
<line x1="319.4" y1="324.7" x2="319.4" y2="329.3" stroke="#000" stroke-width="1.4" stroke-linecap="butt"/>
<text x="319.4" y="338.2" font-size="8.9" text-anchor="middle" font-weight="normal" >RTX</text>
<text transform="translate(219.4 330.6) rotate(-90)" font-size="8.8" text-anchor="start" textLength="135.0" lengthAdjust="spacingAndGlyphs" style="stroke-width:0.5px">#CXCR5<tspan font-size="6.3" dy="-2.7">+</tspan><tspan dy="2.7" font-size="0.1">&#8203;</tspan>CD57<tspan font-size="6.3" dy="-2.7">+</tspan><tspan dy="2.7" font-size="0.1">&#8203;</tspan>IL-7R<tspan font-size="6.3" dy="-2.7">lo</tspan><tspan dy="2.7" font-size="0.1">&#8203;</tspan>FoxP3<tspan font-size="6.3" dy="-2.7">+</tspan><tspan dy="2.7" font-size="0.1">&#8203;</tspan>CD4<tspan font-size="6.3" dy="-2.7">+</tspan><tspan dy="2.7" font-size="0.1">&#8203;</tspan></text>
<path d="M276.8 203 V198.8 H321.8 V203" fill="none" stroke="#000" stroke-width="1.4"/>
<text x="300" y="193.3" font-size="7.7" text-anchor="middle" font-weight="normal" >p=0.94</text>
<circle cx="277.5" cy="213.5" r="3.2" fill="#000" stroke="#fff" stroke-width="0.4"/>
<circle cx="272.5" cy="251.9" r="3.2" fill="#000" stroke="#fff" stroke-width="0.4"/>
<circle cx="282.25" cy="257.5" r="3.2" fill="#000" stroke="#fff" stroke-width="0.4"/>
<circle cx="282.25" cy="268.1" r="3.2" fill="#000" stroke="#fff" stroke-width="0.4"/>
<circle cx="272.5" cy="270.6" r="3.2" fill="#000" stroke="#fff" stroke-width="0.4"/>
<circle cx="272.5" cy="279.4" r="3.2" fill="#000" stroke="#fff" stroke-width="0.4"/>
<circle cx="282.25" cy="281.9" r="3.2" fill="#000" stroke="#fff" stroke-width="0.4"/>
<circle cx="267.75" cy="297.75" r="3.2" fill="#000" stroke="#fff" stroke-width="0.4"/>
<circle cx="277.5" cy="299.6" r="3.2" fill="#000" stroke="#fff" stroke-width="0.4"/>
<circle cx="286.9" cy="297.75" r="3.2" fill="#000" stroke="#fff" stroke-width="0.4"/>
<circle cx="286.9" cy="305.25" r="3.2" fill="#000" stroke="#fff" stroke-width="0.4"/>
<circle cx="267.75" cy="311.25" r="3.2" fill="#000" stroke="#fff" stroke-width="0.4"/>
<circle cx="277.5" cy="311.5" r="3.2" fill="#000" stroke="#fff" stroke-width="0.4"/>
<circle cx="272.5" cy="315.25" r="3.2" fill="#000" stroke="#fff" stroke-width="0.4"/>
<circle cx="282.25" cy="315.25" r="3.2" fill="#000" stroke="#fff" stroke-width="0.4"/>
<circle cx="272.5" cy="320.9" r="3.2" fill="#000" stroke="#fff" stroke-width="0.4"/>
<circle cx="282.25" cy="320.9" r="3.2" fill="#000" stroke="#fff" stroke-width="0.4"/>
<line x1="263.5" y1="292.1" x2="291.25" y2="292.1" stroke="#000" stroke-width="1.7" stroke-linecap="butt"/>
<circle cx="319.4" cy="282" r="3.0" fill="#fff" stroke="#000" stroke-width="1.55"/>
<circle cx="309.75" cy="299.75" r="3.0" fill="#fff" stroke="#000" stroke-width="1.55"/>
<circle cx="319.4" cy="300.75" r="3.0" fill="#fff" stroke="#000" stroke-width="1.55"/>
<circle cx="329" cy="296" r="3.0" fill="#fff" stroke="#000" stroke-width="1.55"/>
<circle cx="319.4" cy="316" r="3.0" fill="#fff" stroke="#000" stroke-width="1.55"/>
<line x1="306" y1="299.1" x2="333.5" y2="299.1" stroke="#000" stroke-width="1.7" stroke-linecap="butt"/>
<line x1="390.7" y1="197.15" x2="390.7" y2="327.25" stroke="#000" stroke-width="1.6" stroke-linecap="butt"/>
<line x1="389.95" y1="326.5" x2="521" y2="326.5" stroke="#000" stroke-width="1.6" stroke-linecap="butt"/>
<line x1="386.7" y1="326.5" x2="390.7" y2="326.5" stroke="#000" stroke-width="1.4" stroke-linecap="butt"/>
<text x="386.4" y="329.9" font-size="9.5" text-anchor="end" font-weight="normal" style="stroke-width:0.45px">0</text>
<line x1="386.7" y1="300.78" x2="390.7" y2="300.78" stroke="#000" stroke-width="1.4" stroke-linecap="butt"/>
<text x="386.4" y="304.17999999999995" font-size="9.5" text-anchor="end" font-weight="normal" style="stroke-width:0.45px">100</text>
<line x1="386.7" y1="275.06" x2="390.7" y2="275.06" stroke="#000" stroke-width="1.4" stroke-linecap="butt"/>
<text x="386.4" y="278.46" font-size="9.5" text-anchor="end" font-weight="normal" style="stroke-width:0.45px">200</text>
<line x1="386.7" y1="249.34" x2="390.7" y2="249.34" stroke="#000" stroke-width="1.4" stroke-linecap="butt"/>
<text x="386.4" y="252.74" font-size="9.5" text-anchor="end" font-weight="normal" style="stroke-width:0.45px">300</text>
<line x1="386.7" y1="223.62" x2="390.7" y2="223.62" stroke="#000" stroke-width="1.4" stroke-linecap="butt"/>
<text x="386.4" y="227.02" font-size="9.5" text-anchor="end" font-weight="normal" style="stroke-width:0.45px">400</text>
<line x1="386.7" y1="197.9" x2="390.7" y2="197.9" stroke="#000" stroke-width="1.4" stroke-linecap="butt"/>
<text x="386.4" y="201.3" font-size="9.5" text-anchor="end" font-weight="normal" style="stroke-width:0.45px">500</text>
<text transform="translate(364.1 262) rotate(-90)" font-size="9.25" text-anchor="middle" style="stroke-width:0.5px">IgA (relative units)</text>
<line x1="412.5" y1="326.5" x2="412.5" y2="331" stroke="#000" stroke-width="1.4" stroke-linecap="butt"/>
<line x1="455.7" y1="326.5" x2="455.7" y2="331" stroke="#000" stroke-width="1.4" stroke-linecap="butt"/>
<line x1="498.5" y1="326.5" x2="498.5" y2="331" stroke="#000" stroke-width="1.4" stroke-linecap="butt"/>
<rect x="441.3" y="250" width="29" height="76.5" fill="#f4f4f4" stroke="#000" stroke-width="1.5"/>
<line x1="456" y1="237.3" x2="456" y2="263.7" stroke="#000" stroke-width="1.4" stroke-linecap="butt"/>
<line x1="448.8" y1="237.3" x2="463.3" y2="237.3" stroke="#000" stroke-width="1.4" stroke-linecap="butt"/>
<line x1="448.8" y1="263.7" x2="463.3" y2="263.7" stroke="#000" stroke-width="1.4" stroke-linecap="butt"/>
<rect x="484.3" y="303.2" width="29.2" height="23.3" fill="#808080" stroke="#000" stroke-width="1.5"/>
<line x1="499" y1="301" x2="499" y2="305.3" stroke="#000" stroke-width="1.3" stroke-linecap="butt"/>
<line x1="491.3" y1="301" x2="506.3" y2="301" stroke="#000" stroke-width="1.3" stroke-linecap="butt"/>
<line x1="491.3" y1="305.3" x2="506.3" y2="305.3" stroke="#000" stroke-width="1.3" stroke-linecap="butt"/>
<text x="413.6" y="320.6" font-size="9" text-anchor="middle" font-weight="normal" style="stroke-width:0.45px">n.d.</text>
<text x="413.9" y="341" font-size="9.1" text-anchor="middle" font-weight="normal" style="stroke-width:0.45px">B only</text>
<text x="456.9" y="341" font-size="9.1" text-anchor="middle" font-weight="normal" style="stroke-width:0.45px">B + Tfh</text>
<text x="499.4" y="341" font-size="9.1" text-anchor="middle" font-weight="normal" style="stroke-width:0.45px">B + Tfh</text>
<text x="499.4" y="350.5" font-size="9.1" text-anchor="middle" font-weight="normal" style="stroke-width:0.45px">+ Tfr</text>
<path d="M456.3 229.5 V225.5 H498.8 V229.5" fill="none" stroke="#000" stroke-width="1.6"/>
<text x="477.6" y="219.3" font-size="9.4" text-anchor="middle" font-weight="normal" style="stroke-width:0.5px;letter-spacing:0.1px">p=0.02</text>
</svg>
</body></html>
